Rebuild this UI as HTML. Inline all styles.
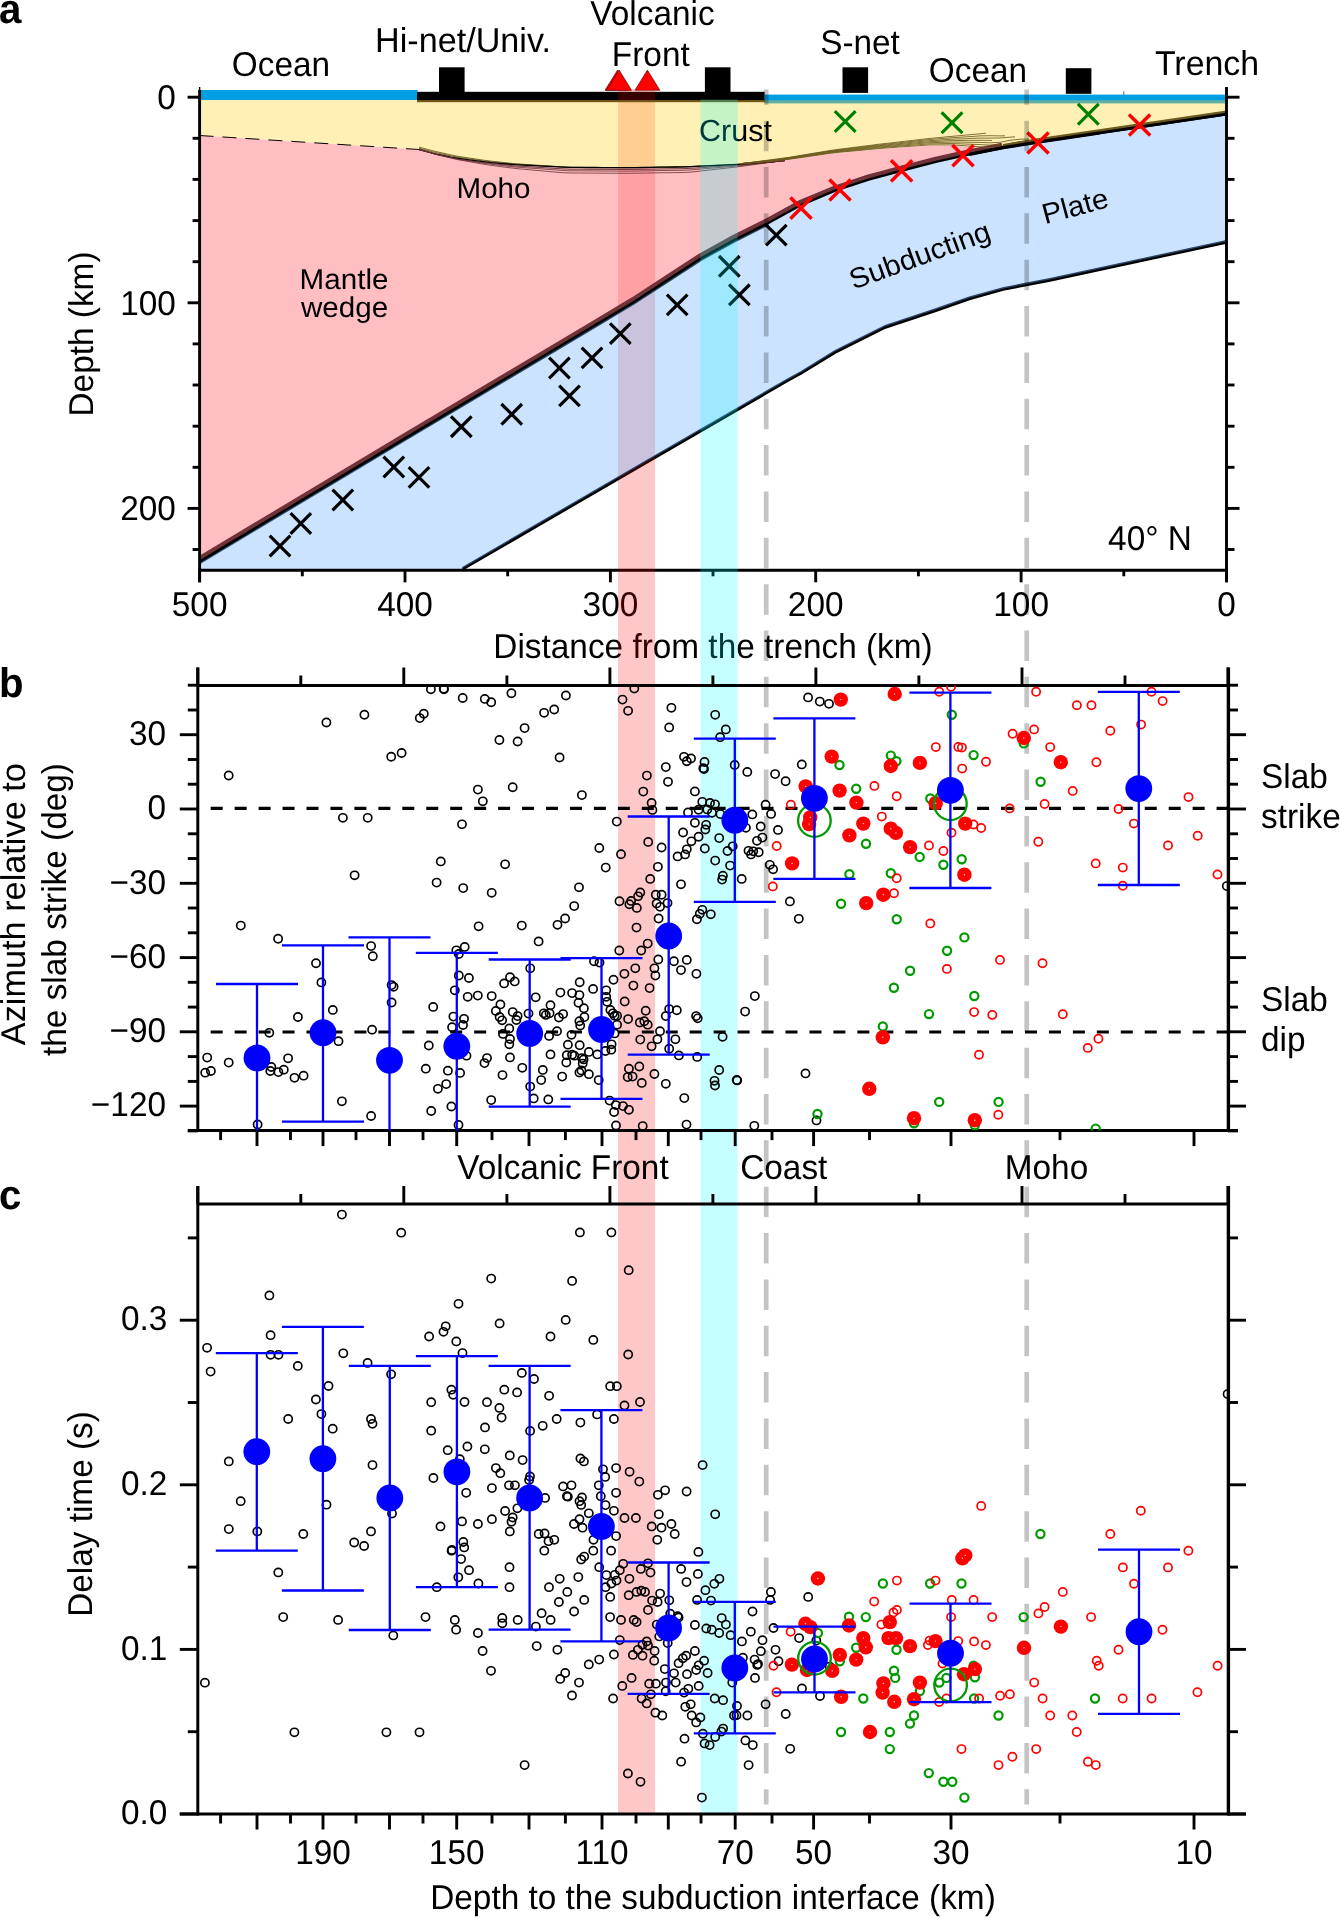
<!DOCTYPE html>
<html><head><meta charset="utf-8"><title>Figure</title>
<style>html,body{margin:0;padding:0;background:#fff}body{width:1340px;height:1918px;position:relative;overflow:hidden;font-family:"Liberation Sans", sans-serif}</style></head>
<body>
<svg width="1340" height="1918" viewBox="0 0 1340 1918" style="position:absolute;left:0;top:0;will-change:transform;font-family:'Liberation Sans', sans-serif" font-size="33.3" text-rendering="geometricPrecision">
<defs><clipPath id="ca"><rect x="199.6" y="80" width="1026.9" height="490.3"/></clipPath>
<clipPath id="cb"><rect x="197.8" y="685.5" width="1030.2" height="445.1"/></clipPath>
<clipPath id="cc"><rect x="197.8" y="1204.0" width="1030.2" height="610.0"/></clipPath>
<clipPath id="cy"><polygon points="199.5,99.0 1226.5,99.0 1226.5,113.6 1226.5,113.6 1038.0,141.5 1003.0,147.1 996.0,148.5 975.0,147.0 953.0,145.5 929.0,145.5 881.0,149.0 833.0,153.5 785.0,160.5 768.0,162.3 740.0,164.3 683.6,166.9 627.0,167.7 570.0,167.4 513.0,164.6 485.0,162.0 456.7,158.2 437.0,154.3 419.0,149.5 199.5,135.5"/></clipPath>
<clipPath id="cw"><polygon points="199.5,135.5 419.0,149.5 437.0,154.3 456.7,158.2 485.0,162.0 513.0,164.6 570.0,167.4 627.0,167.7 683.6,166.9 740.0,164.3 768.0,162.3 785.0,160.5 833.0,153.5 881.0,149.0 929.0,145.5 953.0,145.5 975.0,147.0 996.0,148.5 969.4,153.8 935.8,161.2 902.2,169.9 868.6,179.0 835.1,190.1 801.5,204.2 767.9,222.6 734.3,239.4 700.7,257.9 667.2,279.7 633.6,301.6 600.0,321.7 405.0,437.8 199.5,561.0"/></clipPath>
<clipPath id="cs"><polygon points="199.5,561.0 405.0,437.8 600.0,321.7 633.6,301.6 667.2,279.7 700.7,257.9 734.3,239.4 767.9,222.6 801.5,204.2 835.1,190.1 868.6,179.0 902.2,169.9 935.8,161.2 969.4,153.8 1003.0,147.1 1038.0,141.5 1226.5,113.6 1226.5,241.7 1050.0,279.7 1003.0,288.8 969.4,298.2 935.8,310.0 885.4,326.7 835.0,351.9 801.5,372.5 787.8,380.0 640.0,465.6 462.4,568.7 460.0,570.2 199.5,570.0"/></clipPath>
<clipPath id="cout"><rect x="0" y="0" width="1340" height="100.1"/><polygon points="1226.5,241.7 1050.0,279.7 1003.0,288.8 969.4,298.2 935.8,310.0 885.4,326.7 835.0,351.9 801.5,372.5 787.8,380.0 640.0,465.6 462.4,568.7 460.0,570.2 460.0,1918.0 1340.0,1918.0 1340.0,241.7"/></clipPath>
</defs>
<rect width="1340" height="1918" fill="#fff"/>
<g clip-path="url(#ca)">
<polygon points="199.5,99.0 1226.5,99.0 1226.5,113.6 1226.5,113.6 1038.0,141.5 1003.0,147.1 996.0,148.5 975.0,147.0 953.0,145.5 929.0,145.5 881.0,149.0 833.0,153.5 785.0,160.5 768.0,162.3 740.0,164.3 683.6,166.9 627.0,167.7 570.0,167.4 513.0,164.6 485.0,162.0 456.7,158.2 437.0,154.3 419.0,149.5 199.5,135.5" fill="#fff0b6"/>
<polygon points="199.5,135.5 419.0,149.5 437.0,154.3 456.7,158.2 485.0,162.0 513.0,164.6 570.0,167.4 627.0,167.7 683.6,166.9 740.0,164.3 768.0,162.3 785.0,160.5 833.0,153.5 881.0,149.0 929.0,145.5 953.0,145.5 975.0,147.0 996.0,148.5 969.4,153.8 935.8,161.2 902.2,169.9 868.6,179.0 835.1,190.1 801.5,204.2 767.9,222.6 734.3,239.4 700.7,257.9 667.2,279.7 633.6,301.6 600.0,321.7 405.0,437.8 199.5,561.0" fill="#ffbec2"/>
<polygon points="199.5,561.0 405.0,437.8 600.0,321.7 633.6,301.6 667.2,279.7 700.7,257.9 734.3,239.4 767.9,222.6 801.5,204.2 835.1,190.1 868.6,179.0 902.2,169.9 935.8,161.2 969.4,153.8 1003.0,147.1 1038.0,141.5 1226.5,113.6 1226.5,241.7 1050.0,279.7 1003.0,288.8 969.4,298.2 935.8,310.0 885.4,326.7 835.0,351.9 801.5,372.5 787.8,380.0 640.0,465.6 462.4,568.7 460.0,570.2 199.5,570.0" fill="#cce3ff"/>
<rect x="618" y="99" width="37.1" height="472" fill="#ffcf92" clip-path="url(#cy)"/>
<rect x="618" y="99" width="37.1" height="472" fill="#ffa0a5" clip-path="url(#cw)"/>
<rect x="618" y="99" width="37.1" height="472" fill="#cbc3de" clip-path="url(#cs)"/>
<rect x="765" y="100" width="461.5" height="3.4" fill="#5fb0a4"/>
<rect x="417" y="100" width="348" height="2.2" fill="#7a5a1a"/>
<polyline points="1226.5,241.7 1050.0,279.7 1003.0,288.8 969.4,298.2 935.8,310.0 885.4,326.7 835.0,351.9 801.5,372.5 787.8,380.0 640.0,465.6 462.4,568.7" fill="none" stroke="#2a4466" stroke-width="2.2" transform="translate(0,-0.6)"/>
<polyline points="1226.5,241.7 1050.0,279.7 1003.0,288.8 969.4,298.2 935.8,310.0 885.4,326.7 835.0,351.9 801.5,372.5 787.8,380.0 640.0,465.6 462.4,568.7" fill="none" stroke="#000" stroke-width="2.2" transform="translate(0,0.9)"/>
<polyline points="199.5,561.0 405.0,437.8 600.0,321.7 633.6,301.6 667.2,279.7 700.7,257.9 734.3,239.4 767.9,222.6" fill="none" stroke="#2c4a68" stroke-width="2" transform="translate(0.6,1.9)"/>
<polyline points="199.5,561.0 405.0,437.8 600.0,321.7 633.6,301.6 667.2,279.7 700.7,257.9 734.3,239.4 767.9,222.6 801.5,204.2 835.1,190.1 868.6,179.0 902.2,169.9 935.8,161.2 969.4,153.8 1003.0,147.1" fill="none" stroke="#6e3238" stroke-width="4.4" transform="translate(-1.0,-2.1)"/>
<polyline points="1003.0,147.1 1038.0,141.5 1226.5,113.6" fill="none" stroke="#6b5a1e" stroke-width="2.6" transform="translate(0,-1.9)"/>
<polyline points="199.5,561.0 405.0,437.8 600.0,321.7 633.6,301.6 667.2,279.7 700.7,257.9 734.3,239.4 767.9,222.6 801.5,204.2 835.1,190.1 868.6,179.0 902.2,169.9 935.8,161.2 969.4,153.8 1003.0,147.1 1038.0,141.5 1226.5,113.6" fill="none" stroke="#000" stroke-width="2.4" transform="translate(0,0.6)"/>
<polyline points="199.5,135.5 419.0,149.5" fill="none" stroke="#000" stroke-width="1" stroke-dasharray="14,9"/>
<polyline points="419.0,147.1 427.0,149.2 435.0,151.4 443.0,153.1 451.0,154.9 459.0,156.5 467.0,157.7 475.0,158.9 483.0,160.1 491.0,161.1 499.0,162.0 507.0,162.9 515.0,163.7 523.0,164.2 531.0,164.8 539.0,165.3 547.0,165.8 555.0,166.4 563.0,166.9 571.0,167.4 579.0,167.4 587.0,167.5 595.0,167.5 603.0,167.6 611.0,167.6 619.0,167.7 627.0,167.7 635.0,167.6 643.0,167.5 651.0,167.4 659.0,167.2 667.0,167.1 675.0,167.0 683.0,166.9 691.0,166.6 699.0,166.2 707.0,165.8 715.0,165.5 723.0,165.1 731.0,164.7 739.0,164.3 747.0,163.8 755.0,163.2 763.0,162.7 771.0,162.0 779.0,161.1 785.0,160.5" fill="none" stroke="#5a4a14" stroke-width="0.8"/>
<polyline points="419.0,148.2 427.0,150.3 435.0,152.5 443.0,154.2 451.0,155.9 459.0,157.4 467.0,158.6 475.0,159.7 483.0,160.9 491.0,161.8 499.0,162.6 507.0,163.4 515.0,164.1 523.0,164.6 531.0,165.1 539.0,165.6 547.0,166.0 555.0,166.5 563.0,167.0 571.0,167.4 579.0,167.4 587.0,167.5 595.0,167.5 603.0,167.6 611.0,167.6 619.0,167.7 627.0,167.7 635.0,167.6 643.0,167.5 651.0,167.4 659.0,167.2 667.0,167.1 675.0,167.0 683.0,166.9 691.0,166.6 699.0,166.2 707.0,165.8 715.0,165.5 723.0,165.1 731.0,164.7 739.0,164.3 747.0,163.8 755.0,163.2 763.0,162.7 771.0,162.0 779.0,161.1 785.0,160.5" fill="none" stroke="#5a4a14" stroke-width="0.8"/>
<polyline points="419.0,149.5 427.0,151.6 435.0,153.8 443.0,155.5 451.0,157.1 459.0,158.5 467.0,159.6 475.0,160.7 483.0,161.7 491.0,162.6 499.0,163.3 507.0,164.0 515.0,164.7 523.0,165.1 531.0,165.5 539.0,165.9 547.0,166.3 555.0,166.7 563.0,167.1 571.0,167.4 579.0,167.4 587.0,167.5 595.0,167.5 603.0,167.6 611.0,167.6 619.0,167.7 627.0,167.7 635.0,167.6 643.0,167.5 651.0,167.4 659.0,167.2 667.0,167.1 675.0,167.0 683.0,166.9 691.0,166.6 699.0,166.2 707.0,165.8 715.0,165.5 723.0,165.1 731.0,164.7 739.0,164.3 747.0,163.8 755.0,163.2 763.0,162.7 771.0,162.0 779.0,161.1 785.0,160.5" fill="none" stroke="#000" stroke-width="1.3"/>
<polyline points="419.0,149.5 427.0,151.7 435.0,153.9 443.0,155.7 451.0,157.4 459.0,159.0 467.0,160.1 475.0,161.3 483.0,162.5 491.0,163.4 499.0,164.3 507.0,165.1 515.0,165.9 523.0,166.4 531.0,166.9 539.0,167.4 547.0,167.9 555.0,168.4 563.0,168.9 571.0,169.2 579.0,169.2 587.0,169.3 595.0,169.3 603.0,169.4 611.0,169.4 619.0,169.5 627.0,169.5 635.0,169.4 643.0,169.3 651.0,169.2 659.0,169.0 667.0,168.9 675.0,168.8 683.0,168.7 691.0,168.3 699.0,167.8 707.0,167.3 715.0,166.7 723.0,166.2 731.0,165.6 739.0,165.1 747.0,164.4 755.0,163.7 763.0,162.9 771.0,162.1 779.0,161.1 785.0,160.5" fill="none" stroke="#4a2020" stroke-width="0.8"/>
<polyline points="419.0,149.5 427.0,151.7 435.0,154.0 443.0,155.9 451.0,157.7 459.0,159.4 467.0,160.6 475.0,161.9 483.0,163.2 491.0,164.2 499.0,165.2 507.0,166.1 515.0,167.0 523.0,167.6 531.0,168.2 539.0,168.7 547.0,169.3 555.0,169.9 563.0,170.5 571.0,170.8 579.0,170.8 587.0,170.9 595.0,170.9 603.0,171.0 611.0,171.0 619.0,171.1 627.0,171.1 635.0,171.0 643.0,170.9 651.0,170.8 659.0,170.6 667.0,170.5 675.0,170.4 683.0,170.3 691.0,169.9 699.0,169.2 707.0,168.5 715.0,167.9 723.0,167.2 731.0,166.5 739.0,165.8 747.0,164.9 755.0,164.0 763.0,163.1 771.0,162.1 779.0,161.1 785.0,160.5" fill="none" stroke="#6a3036" stroke-width="0.8"/>
<polyline points="419.0,149.5 427.0,151.7 435.0,154.2 443.0,156.2 451.0,158.2 459.0,159.9 467.0,161.3 475.0,162.7 483.0,164.1 491.0,165.3 499.0,166.4 507.0,167.4 515.0,168.4 523.0,169.2 531.0,169.9 539.0,170.6 547.0,171.3 555.0,172.1 563.0,172.7 571.0,173.0 579.0,173.0 587.0,173.1 595.0,173.1 603.0,173.2 611.0,173.2 619.0,173.3 627.0,173.3 635.0,173.2 643.0,173.1 651.0,173.0 659.0,172.8 667.0,172.7 675.0,172.6 683.0,172.5 691.0,172.1 699.0,171.2 707.0,170.3 715.0,169.4 723.0,168.5 731.0,167.6 739.0,166.7 747.0,165.6 755.0,164.5 763.0,163.4 771.0,162.2 779.0,161.1 785.0,160.5" fill="none" stroke="#6a3036" stroke-width="0.8"/>
<polyline points="740.0,163.7 750.0,163.0 760.0,162.3 770.0,161.5 780.0,160.4 790.0,159.2 800.0,157.7 810.0,156.3 820.0,154.8 830.0,153.3 840.0,152.2 850.0,151.3 860.0,150.4 870.0,149.4 880.0,148.5 890.0,147.7 900.0,147.0 910.0,146.3 920.0,145.6 930.0,144.9 940.0,144.9 950.0,144.9 960.0,145.4 970.0,146.1 980.0,146.8 990.0,147.5 1000.0,146.6 1010.0,143.5 1020.0,141.6 1030.0,141.0 1032.0,140.9" fill="none" stroke="#6b5a1e" stroke-width="0.85"/>
<polyline points="740.0,163.7 750.0,162.9 760.0,162.1 770.0,161.2 780.0,160.1 790.0,158.8 800.0,157.3 810.0,155.9 820.0,154.4 830.0,152.9 840.0,151.7 850.0,150.7 860.0,149.7 870.0,148.8 880.0,147.8 890.0,146.9 900.0,146.1 910.0,145.4 920.0,144.6 930.0,143.8 940.0,143.7 950.0,143.5 960.0,143.8 970.0,144.2 980.0,144.6 990.0,145.1 1000.0,144.5" fill="none" stroke="#6b5a1e" stroke-width="0.85"/>
<polyline points="740.0,163.7 750.0,162.8 760.0,161.9 770.0,161.0 780.0,159.8 790.0,158.5 800.0,157.0 810.0,155.4 820.0,153.9 830.0,152.4 840.0,151.2 850.0,150.2 860.0,149.1 870.0,148.1 880.0,147.0 890.0,146.2 900.0,145.3 910.0,144.4 920.0,143.5 930.0,142.7 940.0,142.4 950.0,142.1 960.0,142.1 970.0,142.3 980.0,142.4 990.0,142.8 1000.0,142.3 1010.0,140.3 1020.0,139.2 1029.0,139.0" fill="none" stroke="#6b5a1e" stroke-width="0.85"/>
<polyline points="740.0,163.8 750.0,162.7 760.0,161.7 770.0,160.7 780.0,159.5 790.0,158.2 800.0,156.6 810.0,155.0 820.0,153.5 830.0,151.9 840.0,150.7 850.0,149.6 860.0,148.5 870.0,147.4 880.0,146.3 890.0,145.4 900.0,144.4 910.0,143.5 920.0,142.5 930.0,141.7 940.0,141.2 950.0,140.7 960.0,140.5 970.0,140.4 980.0,140.3 990.0,140.4 992.0,140.5" fill="none" stroke="#6b5a1e" stroke-width="0.85"/>
<polyline points="740.0,163.8 750.0,162.7 760.0,161.6 770.0,160.5 780.0,159.2 790.0,157.8 800.0,156.2 810.0,154.6 820.0,153.0 830.0,151.4 840.0,150.2 850.0,149.0 860.0,147.9 870.0,146.7 880.0,145.6 890.0,144.6 900.0,143.6 910.0,142.5 920.0,141.5 930.0,140.6 940.0,140.0 950.0,139.3 960.0,138.9 970.0,138.5 980.0,138.1 990.0,138.1 1000.0,138.0 1010.0,137.2 1015.0,136.8" fill="none" stroke="#6b5a1e" stroke-width="0.85"/>
<polyline points="740.0,163.8 750.0,162.6 760.0,161.4 770.0,160.2 780.0,158.9 790.0,157.5 800.0,155.9 810.0,154.2 820.0,152.6 830.0,151.0 840.0,149.6 850.0,148.4 860.0,147.2 870.0,146.1 880.0,144.9 890.0,143.8 900.0,142.7 910.0,141.6 920.0,140.5 930.0,139.5 940.0,138.7 950.0,137.9 960.0,137.2 970.0,136.6 980.0,135.9 990.0,135.7 1000.0,135.9 1005.0,135.8" fill="none" stroke="#6b5a1e" stroke-width="0.85"/>
<polyline points="740.0,163.8 750.0,162.5 760.0,161.2 770.0,159.9 780.0,158.6 790.0,157.2 800.0,155.5 810.0,153.8 820.0,152.2 830.0,150.5 840.0,149.1 850.0,147.9 860.0,146.6 870.0,145.4 880.0,144.1 890.0,143.0 900.0,141.8 910.0,140.7 920.0,139.5 930.0,138.4 940.0,137.5 950.0,136.5 960.0,135.6 970.0,134.7 980.0,133.8 986.0,133.2" fill="none" stroke="#6b5a1e" stroke-width="0.85"/>
<polyline points="969.4,153.8 1003.0,147.1 1038.0,141.5 1100.0,132.3" fill="none" stroke="#000" stroke-width="3.2" transform="translate(0,0.6)"/>
<polyline points="1100,132.3 1226.5,113.6" fill="none" stroke="#000" stroke-width="2.8" transform="translate(0,0.6)"/>
</g>
<rect x="199.5" y="90" width="218" height="10" fill="#009fe3"/>
<rect x="764.6" y="94.6" width="462" height="5.6" fill="#009fe3"/>
<rect x="417" y="91.8" width="347.6" height="8.3" fill="#000"/>
<rect x="439.0" y="67.3" width="25.6" height="25.6" fill="#000"/>
<rect x="704.9" y="67.3" width="25.6" height="25.6" fill="#000"/>
<rect x="842.5" y="67.3" width="25.6" height="25.6" fill="#000"/>
<rect x="1065.8" y="68.2" width="25.6" height="25.6" fill="#000"/>
<polygon points="605,90.3 617.6,70 630.2,90.3" fill="#f00" stroke="#400" stroke-width="0.6"/>
<polygon points="606.6,90.3 619.1,70 631.6,90.3" fill="#f00" stroke="#400" stroke-width="0.6"/>
<polygon points="634.9,90.3 647.4,70 659.9,90.3" fill="#f00" stroke="#400" stroke-width="0.6"/>
<line x1="1123.8" y1="91.3" x2="1123.8" y2="94.8" stroke="#333" stroke-width="0.8"/>
<path d="M269.7 535.7L290.3 556.3M269.7 556.3L290.3 535.7" stroke="#000" stroke-width="3.2" fill="none"/>
<path d="M290.5 513.2L311.1 533.8M290.5 533.8L311.1 513.2" stroke="#000" stroke-width="3.2" fill="none"/>
<path d="M332.5 489.7L353.1 510.3M332.5 510.3L353.1 489.7" stroke="#000" stroke-width="3.2" fill="none"/>
<path d="M383.5 456.7L404.1 477.3M383.5 477.3L404.1 456.7" stroke="#000" stroke-width="3.2" fill="none"/>
<path d="M408.7 467.1L429.3 487.7M408.7 487.7L429.3 467.1" stroke="#000" stroke-width="3.2" fill="none"/>
<path d="M451.0 416.4L471.6 437.0M451.0 437.0L471.6 416.4" stroke="#000" stroke-width="3.2" fill="none"/>
<path d="M501.4 404.0L522.0 424.6M501.4 424.6L522.0 404.0" stroke="#000" stroke-width="3.2" fill="none"/>
<path d="M549.1 357.7L569.7 378.3M549.1 378.3L569.7 357.7" stroke="#000" stroke-width="3.2" fill="none"/>
<path d="M559.2 385.6L579.8 406.2M559.2 406.2L579.8 385.6" stroke="#000" stroke-width="3.2" fill="none"/>
<path d="M581.7 347.6L602.3 368.2M581.7 368.2L602.3 347.6" stroke="#000" stroke-width="3.2" fill="none"/>
<path d="M610.0 323.3L630.6 343.9M610.0 343.9L630.6 323.3" stroke="#000" stroke-width="3.2" fill="none"/>
<path d="M666.9 294.6L687.5 315.2M666.9 315.2L687.5 294.6" stroke="#000" stroke-width="3.2" fill="none"/>
<path d="M719.0 256.0L739.6 276.6M719.0 276.6L739.6 256.0" stroke="#000" stroke-width="3.2" fill="none"/>
<path d="M729.1 284.5L749.7 305.1M729.1 305.1L749.7 284.5" stroke="#000" stroke-width="3.2" fill="none"/>
<path d="M766.0 224.8L786.6 245.4M766.0 245.4L786.6 224.8" stroke="#000" stroke-width="3.2" fill="none"/>
<path d="M790.4 197.6L811.6 218.8M790.4 218.8L811.6 197.6" stroke="#f00" stroke-width="3.5" fill="none"/>
<path d="M829.4 179.4L850.6 200.6M829.4 200.6L850.6 179.4" stroke="#f00" stroke-width="3.5" fill="none"/>
<path d="M891.0 160.3L912.2 181.5M891.0 181.5L912.2 160.3" stroke="#f00" stroke-width="3.5" fill="none"/>
<path d="M952.4 145.0L973.6 166.2M952.4 166.2L973.6 145.0" stroke="#f00" stroke-width="3.5" fill="none"/>
<path d="M1027.4 132.4L1048.6 153.6M1027.4 153.6L1048.6 132.4" stroke="#f00" stroke-width="3.5" fill="none"/>
<path d="M1129.0 114.4L1150.2 135.6M1129.0 135.6L1150.2 114.4" stroke="#f00" stroke-width="3.5" fill="none"/>
<path d="M834.8 111.1L855.6 131.9M834.8 131.9L855.6 111.1" stroke="#008000" stroke-width="3.2" fill="none"/>
<path d="M941.6 112.3L962.4 133.1M941.6 133.1L962.4 112.3" stroke="#008000" stroke-width="3.2" fill="none"/>
<path d="M1077.9 103.9L1098.7 124.7M1077.9 124.7L1098.7 103.9" stroke="#008000" stroke-width="3.2" fill="none"/>
<line x1="199.6" y1="90.0" x2="199.6" y2="582.3" stroke="#000" stroke-width="2.9" />
<line x1="199.6" y1="87.0" x2="199.6" y2="90.0" stroke="#000" stroke-width="1.4" />
<line x1="1226.5" y1="87.0" x2="1226.5" y2="582.3" stroke="#000" stroke-width="2.9" />
<line x1="198.5" y1="570.3" x2="1227.6" y2="570.3" stroke="#000" stroke-width="2.9" />
<line x1="187.6" y1="97.2" x2="199.6" y2="97.2" stroke="#000" stroke-width="2.9" />
<line x1="1226.5" y1="97.2" x2="1239.5" y2="97.2" stroke="#000" stroke-width="2.9" />
<line x1="192.6" y1="138.3" x2="199.6" y2="138.3" stroke="#000" stroke-width="2.9" />
<line x1="1226.5" y1="138.3" x2="1234.5" y2="138.3" stroke="#000" stroke-width="2.9" />
<line x1="192.6" y1="179.4" x2="199.6" y2="179.4" stroke="#000" stroke-width="2.9" />
<line x1="1226.5" y1="179.4" x2="1234.5" y2="179.4" stroke="#000" stroke-width="2.9" />
<line x1="192.6" y1="220.6" x2="199.6" y2="220.6" stroke="#000" stroke-width="2.9" />
<line x1="1226.5" y1="220.6" x2="1234.5" y2="220.6" stroke="#000" stroke-width="2.9" />
<line x1="192.6" y1="261.7" x2="199.6" y2="261.7" stroke="#000" stroke-width="2.9" />
<line x1="1226.5" y1="261.7" x2="1234.5" y2="261.7" stroke="#000" stroke-width="2.9" />
<line x1="187.6" y1="302.8" x2="199.6" y2="302.8" stroke="#000" stroke-width="2.9" />
<line x1="1226.5" y1="302.8" x2="1239.5" y2="302.8" stroke="#000" stroke-width="2.9" />
<line x1="192.6" y1="343.9" x2="199.6" y2="343.9" stroke="#000" stroke-width="2.9" />
<line x1="1226.5" y1="343.9" x2="1234.5" y2="343.9" stroke="#000" stroke-width="2.9" />
<line x1="192.6" y1="385.0" x2="199.6" y2="385.0" stroke="#000" stroke-width="2.9" />
<line x1="1226.5" y1="385.0" x2="1234.5" y2="385.0" stroke="#000" stroke-width="2.9" />
<line x1="192.6" y1="426.2" x2="199.6" y2="426.2" stroke="#000" stroke-width="2.9" />
<line x1="1226.5" y1="426.2" x2="1234.5" y2="426.2" stroke="#000" stroke-width="2.9" />
<line x1="192.6" y1="467.3" x2="199.6" y2="467.3" stroke="#000" stroke-width="2.9" />
<line x1="1226.5" y1="467.3" x2="1234.5" y2="467.3" stroke="#000" stroke-width="2.9" />
<line x1="187.6" y1="508.4" x2="199.6" y2="508.4" stroke="#000" stroke-width="2.9" />
<line x1="1226.5" y1="508.4" x2="1239.5" y2="508.4" stroke="#000" stroke-width="2.9" />
<line x1="192.6" y1="549.5" x2="199.6" y2="549.5" stroke="#000" stroke-width="2.9" />
<line x1="1226.5" y1="549.5" x2="1234.5" y2="549.5" stroke="#000" stroke-width="2.9" />
<line x1="1226.5" y1="570.3" x2="1226.5" y2="582.3" stroke="#000" stroke-width="2.9" />
<line x1="1123.8" y1="570.3" x2="1123.8" y2="576.3" stroke="#000" stroke-width="2.9" />
<line x1="1021.1" y1="570.3" x2="1021.1" y2="582.3" stroke="#000" stroke-width="2.9" />
<line x1="918.4" y1="570.3" x2="918.4" y2="576.3" stroke="#000" stroke-width="2.9" />
<line x1="815.7" y1="570.3" x2="815.7" y2="582.3" stroke="#000" stroke-width="2.9" />
<line x1="713.0" y1="570.3" x2="713.0" y2="576.3" stroke="#000" stroke-width="2.9" />
<line x1="610.4" y1="570.3" x2="610.4" y2="582.3" stroke="#000" stroke-width="2.9" />
<line x1="507.7" y1="570.3" x2="507.7" y2="576.3" stroke="#000" stroke-width="2.9" />
<line x1="405.0" y1="570.3" x2="405.0" y2="582.3" stroke="#000" stroke-width="2.9" />
<line x1="302.3" y1="570.3" x2="302.3" y2="576.3" stroke="#000" stroke-width="2.9" />
<line x1="199.6" y1="570.3" x2="199.6" y2="582.3" stroke="#000" stroke-width="2.9" />
<text transform="translate(-1.0 23.2) scale(0.97 1)" text-anchor="start" font-size="41.5" font-weight="bold">a</text>
<text transform="translate(281.0 75.7) scale(0.97 1)" text-anchor="middle" font-size="34.4" >Ocean</text>
<text transform="translate(463.0 51.9) scale(0.993 1)" text-anchor="middle" font-size="34.4" >Hi-net/Univ.</text>
<text transform="translate(652.5 24.7) scale(0.97 1)" text-anchor="middle" font-size="34.4" >Volcanic</text>
<text transform="translate(650.8 66.0) scale(0.97 1)" text-anchor="middle" font-size="34.4" >Front</text>
<text transform="translate(860.0 54.4) scale(0.97 1)" text-anchor="middle" font-size="34.4" >S-net</text>
<text transform="translate(978.0 81.6) scale(0.97 1)" text-anchor="middle" font-size="34.4" >Ocean</text>
<text transform="translate(1207.0 75.4) scale(0.985 1)" text-anchor="middle" font-size="34.4" >Trench</text>
<text transform="translate(735.5 140.5) scale(1.0 1)" text-anchor="middle" font-size="30.5" >Crust</text>
<text transform="translate(493.5 198.0) scale(1.035 1)" text-anchor="middle" font-size="28.6" >Moho</text>
<text transform="translate(344.0 289.0) scale(1.035 1)" text-anchor="middle" font-size="28.6" >Mantle</text>
<text transform="translate(344.5 316.7) scale(1.035 1)" text-anchor="middle" font-size="28.6" >wedge</text>
<text transform="translate(923.0 264.5) rotate(-20) scale(1.035 1)" text-anchor="middle" font-size="28.6" >Subducting</text>
<text transform="translate(1077.5 215.5) rotate(-15) scale(1.035 1)" text-anchor="middle" font-size="28.6" >Plate</text>
<text transform="translate(1150.0 550.0) scale(0.97 1)" text-anchor="middle" font-size="34.4" >40° N</text>
<text transform="translate(175.8 109.2) scale(0.97 1)" text-anchor="end" font-size="34.4" >0</text>
<text transform="translate(175.8 314.8) scale(0.97 1)" text-anchor="end" font-size="34.4" >100</text>
<text transform="translate(175.8 520.4) scale(0.97 1)" text-anchor="end" font-size="34.4" >200</text>
<text transform="translate(1226.5 615.5) scale(0.97 1)" text-anchor="middle" font-size="34.4" >0</text>
<text transform="translate(1021.1 615.5) scale(0.97 1)" text-anchor="middle" font-size="34.4" >100</text>
<text transform="translate(815.7 615.5) scale(0.97 1)" text-anchor="middle" font-size="34.4" >200</text>
<text transform="translate(610.4 615.5) scale(0.97 1)" text-anchor="middle" font-size="34.4" >300</text>
<text transform="translate(405.0 615.5) scale(0.97 1)" text-anchor="middle" font-size="34.4" >400</text>
<text transform="translate(199.6 615.5) scale(0.97 1)" text-anchor="middle" font-size="34.4" >500</text>
<text transform="translate(713.0 657.8) scale(0.97 1)" text-anchor="middle" font-size="34.4" >Distance from the trench (km)</text>
<text transform="translate(93.0 334.0) rotate(-90) scale(0.97 1)" text-anchor="middle" font-size="34.4" >Depth (km)</text>
<rect x="618" y="89" width="37.1" height="1725" fill="#ff0000" fill-opacity="0.216" clip-path="url(#cout)"/>
<rect x="700.4" y="99.3" width="37.3" height="1714.7" fill="#00ffff" fill-opacity="0.225"/>
<line x1="766.2" y1="89.5" x2="766.2" y2="1804.4" stroke="#000" stroke-opacity="0.23" stroke-width="4.7" stroke-dasharray="30.5,15.85" stroke-dashoffset="15.2"/>
<line x1="1026.7" y1="89.5" x2="1026.7" y2="1804.4" stroke="#000" stroke-opacity="0.23" stroke-width="4.7" stroke-dasharray="30.5,15.85" stroke-dashoffset="15.2"/>
<line x1="197.8" y1="667.5" x2="197.8" y2="1132.0" stroke="#000" stroke-width="3.0" />
<line x1="1228.4" y1="667.5" x2="1228.4" y2="1132.0" stroke="#000" stroke-width="3.4" />
<line x1="197.8" y1="685.5" x2="1228.0" y2="685.5" stroke="#000" stroke-width="3.0" />
<line x1="187.8" y1="1130.6" x2="1238.0" y2="1130.6" stroke="#000" stroke-width="3.0" />
<line x1="1228.0" y1="685.5" x2="1228.0" y2="667.5" stroke="#000" stroke-width="2.9" />
<line x1="1125.0" y1="685.5" x2="1125.0" y2="675.5" stroke="#000" stroke-width="2.9" />
<line x1="1022.0" y1="685.5" x2="1022.0" y2="667.5" stroke="#000" stroke-width="2.9" />
<line x1="918.9" y1="685.5" x2="918.9" y2="675.5" stroke="#000" stroke-width="2.9" />
<line x1="815.9" y1="685.5" x2="815.9" y2="667.5" stroke="#000" stroke-width="2.9" />
<line x1="712.9" y1="685.5" x2="712.9" y2="675.5" stroke="#000" stroke-width="2.9" />
<line x1="609.9" y1="685.5" x2="609.9" y2="667.5" stroke="#000" stroke-width="2.9" />
<line x1="506.9" y1="685.5" x2="506.9" y2="675.5" stroke="#000" stroke-width="2.9" />
<line x1="403.8" y1="685.5" x2="403.8" y2="667.5" stroke="#000" stroke-width="2.9" />
<line x1="300.8" y1="685.5" x2="300.8" y2="675.5" stroke="#000" stroke-width="2.9" />
<line x1="197.8" y1="685.5" x2="197.8" y2="667.5" stroke="#000" stroke-width="2.9" />
<line x1="220.6" y1="1130.6" x2="220.6" y2="1140.1" stroke="#000" stroke-width="2.9" />
<line x1="257.0" y1="1130.6" x2="257.0" y2="1146.1" stroke="#000" stroke-width="2.9" />
<line x1="290.5" y1="1130.6" x2="290.5" y2="1140.1" stroke="#000" stroke-width="2.9" />
<line x1="323.0" y1="1130.6" x2="323.0" y2="1146.1" stroke="#000" stroke-width="2.9" />
<line x1="356.0" y1="1130.6" x2="356.0" y2="1140.1" stroke="#000" stroke-width="2.9" />
<line x1="389.5" y1="1130.6" x2="389.5" y2="1146.1" stroke="#000" stroke-width="2.9" />
<line x1="423.0" y1="1130.6" x2="423.0" y2="1140.1" stroke="#000" stroke-width="2.9" />
<line x1="456.7" y1="1130.6" x2="456.7" y2="1146.1" stroke="#000" stroke-width="2.9" />
<line x1="492.0" y1="1130.6" x2="492.0" y2="1140.1" stroke="#000" stroke-width="2.9" />
<line x1="529.0" y1="1130.6" x2="529.0" y2="1146.1" stroke="#000" stroke-width="2.9" />
<line x1="565.4" y1="1130.6" x2="565.4" y2="1140.1" stroke="#000" stroke-width="2.9" />
<line x1="602.0" y1="1130.6" x2="602.0" y2="1146.1" stroke="#000" stroke-width="2.9" />
<line x1="636.0" y1="1130.6" x2="636.0" y2="1140.1" stroke="#000" stroke-width="2.9" />
<line x1="668.3" y1="1130.6" x2="668.3" y2="1146.1" stroke="#000" stroke-width="2.9" />
<line x1="701.0" y1="1130.6" x2="701.0" y2="1140.1" stroke="#000" stroke-width="2.9" />
<line x1="735.2" y1="1130.6" x2="735.2" y2="1146.1" stroke="#000" stroke-width="2.9" />
<line x1="772.0" y1="1130.6" x2="772.0" y2="1140.1" stroke="#000" stroke-width="2.9" />
<line x1="813.6" y1="1130.6" x2="813.6" y2="1146.1" stroke="#000" stroke-width="2.9" />
<line x1="869.5" y1="1130.6" x2="869.5" y2="1140.1" stroke="#000" stroke-width="2.9" />
<line x1="951.0" y1="1130.6" x2="951.0" y2="1146.1" stroke="#000" stroke-width="2.9" />
<line x1="1060.0" y1="1130.6" x2="1060.0" y2="1140.1" stroke="#000" stroke-width="2.9" />
<line x1="1194.0" y1="1130.6" x2="1194.0" y2="1146.1" stroke="#000" stroke-width="2.9" />
<line x1="197.8" y1="1186.0" x2="197.8" y2="1815.4" stroke="#000" stroke-width="3.0" />
<line x1="1228.4" y1="1186.0" x2="1228.4" y2="1815.4" stroke="#000" stroke-width="3.4" />
<line x1="197.8" y1="1204.0" x2="1228.0" y2="1204.0" stroke="#000" stroke-width="3.0" />
<line x1="179.8" y1="1814.0" x2="1246.0" y2="1814.0" stroke="#000" stroke-width="3.0" />
<line x1="1228.0" y1="1204.0" x2="1228.0" y2="1186.0" stroke="#000" stroke-width="2.9" />
<line x1="1125.0" y1="1204.0" x2="1125.0" y2="1194.0" stroke="#000" stroke-width="2.9" />
<line x1="1022.0" y1="1204.0" x2="1022.0" y2="1186.0" stroke="#000" stroke-width="2.9" />
<line x1="918.9" y1="1204.0" x2="918.9" y2="1194.0" stroke="#000" stroke-width="2.9" />
<line x1="815.9" y1="1204.0" x2="815.9" y2="1186.0" stroke="#000" stroke-width="2.9" />
<line x1="712.9" y1="1204.0" x2="712.9" y2="1194.0" stroke="#000" stroke-width="2.9" />
<line x1="609.9" y1="1204.0" x2="609.9" y2="1186.0" stroke="#000" stroke-width="2.9" />
<line x1="506.9" y1="1204.0" x2="506.9" y2="1194.0" stroke="#000" stroke-width="2.9" />
<line x1="403.8" y1="1204.0" x2="403.8" y2="1186.0" stroke="#000" stroke-width="2.9" />
<line x1="300.8" y1="1204.0" x2="300.8" y2="1194.0" stroke="#000" stroke-width="2.9" />
<line x1="197.8" y1="1204.0" x2="197.8" y2="1186.0" stroke="#000" stroke-width="2.9" />
<line x1="220.6" y1="1814.0" x2="220.6" y2="1823.5" stroke="#000" stroke-width="2.9" />
<line x1="257.0" y1="1814.0" x2="257.0" y2="1829.5" stroke="#000" stroke-width="2.9" />
<line x1="290.5" y1="1814.0" x2="290.5" y2="1823.5" stroke="#000" stroke-width="2.9" />
<line x1="323.0" y1="1814.0" x2="323.0" y2="1829.5" stroke="#000" stroke-width="2.9" />
<line x1="356.0" y1="1814.0" x2="356.0" y2="1823.5" stroke="#000" stroke-width="2.9" />
<line x1="389.5" y1="1814.0" x2="389.5" y2="1829.5" stroke="#000" stroke-width="2.9" />
<line x1="423.0" y1="1814.0" x2="423.0" y2="1823.5" stroke="#000" stroke-width="2.9" />
<line x1="456.7" y1="1814.0" x2="456.7" y2="1829.5" stroke="#000" stroke-width="2.9" />
<line x1="492.0" y1="1814.0" x2="492.0" y2="1823.5" stroke="#000" stroke-width="2.9" />
<line x1="529.0" y1="1814.0" x2="529.0" y2="1829.5" stroke="#000" stroke-width="2.9" />
<line x1="565.4" y1="1814.0" x2="565.4" y2="1823.5" stroke="#000" stroke-width="2.9" />
<line x1="602.0" y1="1814.0" x2="602.0" y2="1829.5" stroke="#000" stroke-width="2.9" />
<line x1="636.0" y1="1814.0" x2="636.0" y2="1823.5" stroke="#000" stroke-width="2.9" />
<line x1="668.3" y1="1814.0" x2="668.3" y2="1829.5" stroke="#000" stroke-width="2.9" />
<line x1="701.0" y1="1814.0" x2="701.0" y2="1823.5" stroke="#000" stroke-width="2.9" />
<line x1="735.2" y1="1814.0" x2="735.2" y2="1829.5" stroke="#000" stroke-width="2.9" />
<line x1="772.0" y1="1814.0" x2="772.0" y2="1823.5" stroke="#000" stroke-width="2.9" />
<line x1="813.6" y1="1814.0" x2="813.6" y2="1829.5" stroke="#000" stroke-width="2.9" />
<line x1="869.5" y1="1814.0" x2="869.5" y2="1823.5" stroke="#000" stroke-width="2.9" />
<line x1="951.0" y1="1814.0" x2="951.0" y2="1829.5" stroke="#000" stroke-width="2.9" />
<line x1="1060.0" y1="1814.0" x2="1060.0" y2="1823.5" stroke="#000" stroke-width="2.9" />
<line x1="1194.0" y1="1814.0" x2="1194.0" y2="1829.5" stroke="#000" stroke-width="2.9" />
<line x1="187.8" y1="1130.9" x2="197.8" y2="1130.9" stroke="#000" stroke-width="2.9" />
<line x1="1228.0" y1="1130.9" x2="1238.0" y2="1130.9" stroke="#000" stroke-width="2.9" />
<line x1="179.8" y1="1106.1" x2="197.8" y2="1106.1" stroke="#000" stroke-width="2.9" />
<line x1="1228.0" y1="1106.1" x2="1246.0" y2="1106.1" stroke="#000" stroke-width="2.9" />
<line x1="187.8" y1="1081.4" x2="197.8" y2="1081.4" stroke="#000" stroke-width="2.9" />
<line x1="1228.0" y1="1081.4" x2="1238.0" y2="1081.4" stroke="#000" stroke-width="2.9" />
<line x1="187.8" y1="1056.6" x2="197.8" y2="1056.6" stroke="#000" stroke-width="2.9" />
<line x1="1228.0" y1="1056.6" x2="1238.0" y2="1056.6" stroke="#000" stroke-width="2.9" />
<line x1="179.8" y1="1031.8" x2="197.8" y2="1031.8" stroke="#000" stroke-width="2.9" />
<line x1="1228.0" y1="1031.8" x2="1246.0" y2="1031.8" stroke="#000" stroke-width="2.9" />
<line x1="187.8" y1="1007.1" x2="197.8" y2="1007.1" stroke="#000" stroke-width="2.9" />
<line x1="1228.0" y1="1007.1" x2="1238.0" y2="1007.1" stroke="#000" stroke-width="2.9" />
<line x1="187.8" y1="982.3" x2="197.8" y2="982.3" stroke="#000" stroke-width="2.9" />
<line x1="1228.0" y1="982.3" x2="1238.0" y2="982.3" stroke="#000" stroke-width="2.9" />
<line x1="179.8" y1="957.6" x2="197.8" y2="957.6" stroke="#000" stroke-width="2.9" />
<line x1="1228.0" y1="957.6" x2="1246.0" y2="957.6" stroke="#000" stroke-width="2.9" />
<line x1="187.8" y1="932.8" x2="197.8" y2="932.8" stroke="#000" stroke-width="2.9" />
<line x1="1228.0" y1="932.8" x2="1238.0" y2="932.8" stroke="#000" stroke-width="2.9" />
<line x1="187.8" y1="908.0" x2="197.8" y2="908.0" stroke="#000" stroke-width="2.9" />
<line x1="1228.0" y1="908.0" x2="1238.0" y2="908.0" stroke="#000" stroke-width="2.9" />
<line x1="179.8" y1="883.3" x2="197.8" y2="883.3" stroke="#000" stroke-width="2.9" />
<line x1="1228.0" y1="883.3" x2="1246.0" y2="883.3" stroke="#000" stroke-width="2.9" />
<line x1="187.8" y1="858.5" x2="197.8" y2="858.5" stroke="#000" stroke-width="2.9" />
<line x1="1228.0" y1="858.5" x2="1238.0" y2="858.5" stroke="#000" stroke-width="2.9" />
<line x1="187.8" y1="833.8" x2="197.8" y2="833.8" stroke="#000" stroke-width="2.9" />
<line x1="1228.0" y1="833.8" x2="1238.0" y2="833.8" stroke="#000" stroke-width="2.9" />
<line x1="179.8" y1="809.0" x2="197.8" y2="809.0" stroke="#000" stroke-width="2.9" />
<line x1="1228.0" y1="809.0" x2="1246.0" y2="809.0" stroke="#000" stroke-width="2.9" />
<line x1="187.8" y1="784.2" x2="197.8" y2="784.2" stroke="#000" stroke-width="2.9" />
<line x1="1228.0" y1="784.2" x2="1238.0" y2="784.2" stroke="#000" stroke-width="2.9" />
<line x1="187.8" y1="759.5" x2="197.8" y2="759.5" stroke="#000" stroke-width="2.9" />
<line x1="1228.0" y1="759.5" x2="1238.0" y2="759.5" stroke="#000" stroke-width="2.9" />
<line x1="179.8" y1="734.7" x2="197.8" y2="734.7" stroke="#000" stroke-width="2.9" />
<line x1="1228.0" y1="734.7" x2="1246.0" y2="734.7" stroke="#000" stroke-width="2.9" />
<line x1="187.8" y1="710.0" x2="197.8" y2="710.0" stroke="#000" stroke-width="2.9" />
<line x1="1228.0" y1="710.0" x2="1238.0" y2="710.0" stroke="#000" stroke-width="2.9" />
<line x1="187.8" y1="685.2" x2="197.8" y2="685.2" stroke="#000" stroke-width="2.9" />
<line x1="1228.0" y1="685.2" x2="1238.0" y2="685.2" stroke="#000" stroke-width="2.9" />
<line x1="179.8" y1="1814.0" x2="197.8" y2="1814.0" stroke="#000" stroke-width="2.9" />
<line x1="1228.0" y1="1814.0" x2="1246.0" y2="1814.0" stroke="#000" stroke-width="2.9" />
<line x1="187.8" y1="1731.7" x2="197.8" y2="1731.7" stroke="#000" stroke-width="2.9" />
<line x1="1228.0" y1="1731.7" x2="1238.0" y2="1731.7" stroke="#000" stroke-width="2.9" />
<line x1="179.8" y1="1649.4" x2="197.8" y2="1649.4" stroke="#000" stroke-width="2.9" />
<line x1="1228.0" y1="1649.4" x2="1246.0" y2="1649.4" stroke="#000" stroke-width="2.9" />
<line x1="187.8" y1="1567.1" x2="197.8" y2="1567.1" stroke="#000" stroke-width="2.9" />
<line x1="1228.0" y1="1567.1" x2="1238.0" y2="1567.1" stroke="#000" stroke-width="2.9" />
<line x1="179.8" y1="1484.8" x2="197.8" y2="1484.8" stroke="#000" stroke-width="2.9" />
<line x1="1228.0" y1="1484.8" x2="1246.0" y2="1484.8" stroke="#000" stroke-width="2.9" />
<line x1="187.8" y1="1402.5" x2="197.8" y2="1402.5" stroke="#000" stroke-width="2.9" />
<line x1="1228.0" y1="1402.5" x2="1238.0" y2="1402.5" stroke="#000" stroke-width="2.9" />
<line x1="179.8" y1="1320.2" x2="197.8" y2="1320.2" stroke="#000" stroke-width="2.9" />
<line x1="1228.0" y1="1320.2" x2="1246.0" y2="1320.2" stroke="#000" stroke-width="2.9" />
<line x1="187.8" y1="1237.9" x2="197.8" y2="1237.9" stroke="#000" stroke-width="2.9" />
<line x1="1228.0" y1="1237.9" x2="1238.0" y2="1237.9" stroke="#000" stroke-width="2.9" />
<line x1="210.7" y1="808.4" x2="1228.0" y2="808.4" stroke="#000" stroke-width="3.2" stroke-dasharray="12,11.95"/>
<line x1="210.7" y1="1032.0" x2="1228.0" y2="1032.0" stroke="#000" stroke-width="3.2" stroke-dasharray="12,11.95"/>
<g clip-path="url(#cb)">
<g fill="none" stroke="#000" stroke-width="1.65">
<circle cx="430.9" cy="689.2" r="4.1"/>
<circle cx="444.0" cy="689.2" r="4.1"/>
<circle cx="326.4" cy="722.5" r="4.1"/>
<circle cx="364.4" cy="714.7" r="4.1"/>
<circle cx="419.8" cy="718.1" r="4.1"/>
<circle cx="423.8" cy="713.7" r="4.1"/>
<circle cx="391.2" cy="756.7" r="4.1"/>
<circle cx="401.6" cy="753.0" r="4.1"/>
<circle cx="228.7" cy="775.5" r="4.1"/>
<circle cx="342.9" cy="817.8" r="4.1"/>
<circle cx="367.7" cy="817.8" r="4.1"/>
<circle cx="354.6" cy="875.3" r="4.1"/>
<circle cx="436.6" cy="882.6" r="4.1"/>
<circle cx="240.8" cy="925.6" r="4.1"/>
<circle cx="278.1" cy="938.7" r="4.1"/>
<circle cx="371.1" cy="946.1" r="4.1"/>
<circle cx="372.8" cy="956.2" r="4.1"/>
<circle cx="316.0" cy="963.2" r="4.1"/>
<circle cx="321.4" cy="982.4" r="4.1"/>
<circle cx="391.6" cy="985.1" r="4.1"/>
<circle cx="393.6" cy="986.8" r="4.1"/>
<circle cx="391.6" cy="1002.5" r="4.1"/>
<circle cx="332.8" cy="1009.9" r="4.1"/>
<circle cx="433.2" cy="1006.9" r="4.1"/>
<circle cx="297.9" cy="1017.0" r="4.1"/>
<circle cx="372.1" cy="1029.7" r="4.1"/>
<circle cx="269.3" cy="1032.8" r="4.1"/>
<circle cx="338.5" cy="1041.2" r="4.1"/>
<circle cx="428.8" cy="1045.5" r="4.1"/>
<circle cx="207.2" cy="1057.6" r="4.1"/>
<circle cx="288.1" cy="1058.3" r="4.1"/>
<circle cx="228.7" cy="1062.6" r="4.1"/>
<circle cx="205.2" cy="1072.7" r="4.1"/>
<circle cx="210.9" cy="1071.0" r="4.1"/>
<circle cx="271.3" cy="1067.0" r="4.1"/>
<circle cx="270.3" cy="1071.0" r="4.1"/>
<circle cx="278.4" cy="1072.1" r="4.1"/>
<circle cx="283.8" cy="1069.7" r="4.1"/>
<circle cx="294.5" cy="1077.8" r="4.1"/>
<circle cx="303.6" cy="1075.7" r="4.1"/>
<circle cx="425.8" cy="1068.7" r="4.1"/>
<circle cx="437.9" cy="1088.8" r="4.1"/>
<circle cx="341.9" cy="1101.3" r="4.1"/>
<circle cx="431.2" cy="1111.0" r="4.1"/>
<circle cx="371.1" cy="1116.0" r="4.1"/>
<circle cx="257.6" cy="1124.4" r="4.1"/>
<circle cx="443.7" cy="688.8" r="4.1"/>
<circle cx="462.7" cy="698.0" r="4.1"/>
<circle cx="484.8" cy="698.9" r="4.1"/>
<circle cx="491.2" cy="702.2" r="4.1"/>
<circle cx="511.4" cy="693.2" r="4.1"/>
<circle cx="565.9" cy="695.5" r="4.1"/>
<circle cx="544.1" cy="712.8" r="4.1"/>
<circle cx="554.2" cy="709.5" r="4.1"/>
<circle cx="634.3" cy="688.5" r="4.1"/>
<circle cx="622.5" cy="699.6" r="4.1"/>
<circle cx="628.1" cy="710.8" r="4.1"/>
<circle cx="524.6" cy="728.1" r="4.1"/>
<circle cx="499.4" cy="740.0" r="4.1"/>
<circle cx="517.6" cy="741.5" r="4.1"/>
<circle cx="559.6" cy="757.5" r="4.1"/>
<circle cx="646.9" cy="775.6" r="4.1"/>
<circle cx="477.9" cy="789.6" r="4.1"/>
<circle cx="512.7" cy="787.2" r="4.1"/>
<circle cx="581.9" cy="795.1" r="4.1"/>
<circle cx="643.3" cy="791.6" r="4.1"/>
<circle cx="482.8" cy="801.3" r="4.1"/>
<circle cx="651.6" cy="803.0" r="4.1"/>
<circle cx="652.4" cy="809.9" r="4.1"/>
<circle cx="462.0" cy="824.3" r="4.1"/>
<circle cx="616.8" cy="821.6" r="4.1"/>
<circle cx="648.2" cy="841.9" r="4.1"/>
<circle cx="661.6" cy="847.5" r="4.1"/>
<circle cx="599.3" cy="848.0" r="4.1"/>
<circle cx="621.0" cy="854.2" r="4.1"/>
<circle cx="440.8" cy="861.4" r="4.1"/>
<circle cx="505.1" cy="864.3" r="4.1"/>
<circle cx="605.7" cy="867.6" r="4.1"/>
<circle cx="657.9" cy="866.8" r="4.1"/>
<circle cx="650.2" cy="878.9" r="4.1"/>
<circle cx="463.2" cy="888.1" r="4.1"/>
<circle cx="491.7" cy="892.8" r="4.1"/>
<circle cx="579.0" cy="887.3" r="4.1"/>
<circle cx="640.3" cy="892.5" r="4.1"/>
<circle cx="638.1" cy="896.3" r="4.1"/>
<circle cx="655.8" cy="894.7" r="4.1"/>
<circle cx="661.6" cy="894.7" r="4.1"/>
<circle cx="619.5" cy="901.2" r="4.1"/>
<circle cx="631.1" cy="900.9" r="4.1"/>
<circle cx="629.4" cy="904.2" r="4.1"/>
<circle cx="636.8" cy="907.9" r="4.1"/>
<circle cx="656.6" cy="903.4" r="4.1"/>
<circle cx="660.0" cy="906.8" r="4.1"/>
<circle cx="574.2" cy="906.1" r="4.1"/>
<circle cx="565.1" cy="918.5" r="4.1"/>
<circle cx="658.6" cy="918.5" r="4.1"/>
<circle cx="671.4" cy="707.8" r="4.1"/>
<circle cx="669.2" cy="727.4" r="4.1"/>
<circle cx="715.2" cy="714.8" r="4.1"/>
<circle cx="725.8" cy="729.4" r="4.1"/>
<circle cx="720.1" cy="737.2" r="4.1"/>
<circle cx="684.0" cy="756.8" r="4.1"/>
<circle cx="691.0" cy="758.5" r="4.1"/>
<circle cx="686.8" cy="761.2" r="4.1"/>
<circle cx="704.5" cy="762.0" r="4.1"/>
<circle cx="703.3" cy="768.2" r="4.1"/>
<circle cx="704.0" cy="769.1" r="4.1"/>
<circle cx="665.8" cy="767.1" r="4.1"/>
<circle cx="734.7" cy="765.0" r="4.1"/>
<circle cx="747.3" cy="771.9" r="4.1"/>
<circle cx="668.0" cy="781.8" r="4.1"/>
<circle cx="775.1" cy="774.1" r="4.1"/>
<circle cx="785.6" cy="781.2" r="4.1"/>
<circle cx="801.8" cy="764.4" r="4.1"/>
<circle cx="808.1" cy="697.4" r="4.1"/>
<circle cx="819.8" cy="701.6" r="4.1"/>
<circle cx="829.0" cy="703.8" r="4.1"/>
<circle cx="694.9" cy="791.4" r="4.1"/>
<circle cx="702.3" cy="801.8" r="4.1"/>
<circle cx="710.0" cy="803.0" r="4.1"/>
<circle cx="715.0" cy="804.3" r="4.1"/>
<circle cx="765.6" cy="804.7" r="4.1"/>
<circle cx="688.0" cy="812.4" r="4.1"/>
<circle cx="698.6" cy="809.7" r="4.1"/>
<circle cx="707.3" cy="809.4" r="4.1"/>
<circle cx="712.0" cy="812.7" r="4.1"/>
<circle cx="720.4" cy="814.1" r="4.1"/>
<circle cx="752.3" cy="814.4" r="4.1"/>
<circle cx="771.1" cy="813.9" r="4.1"/>
<circle cx="694.9" cy="822.8" r="4.1"/>
<circle cx="706.1" cy="824.8" r="4.1"/>
<circle cx="705.3" cy="829.5" r="4.1"/>
<circle cx="683.1" cy="832.5" r="4.1"/>
<circle cx="745.9" cy="827.8" r="4.1"/>
<circle cx="760.7" cy="826.5" r="4.1"/>
<circle cx="778.0" cy="829.9" r="4.1"/>
<circle cx="698.6" cy="836.7" r="4.1"/>
<circle cx="691.4" cy="841.3" r="4.1"/>
<circle cx="719.2" cy="838.1" r="4.1"/>
<circle cx="762.4" cy="837.6" r="4.1"/>
<circle cx="757.0" cy="840.8" r="4.1"/>
<circle cx="686.8" cy="849.3" r="4.1"/>
<circle cx="704.8" cy="848.5" r="4.1"/>
<circle cx="732.7" cy="846.3" r="4.1"/>
<circle cx="727.5" cy="851.0" r="4.1"/>
<circle cx="748.5" cy="850.8" r="4.1"/>
<circle cx="753.2" cy="851.3" r="4.1"/>
<circle cx="751.0" cy="854.4" r="4.1"/>
<circle cx="758.7" cy="852.2" r="4.1"/>
<circle cx="677.6" cy="856.4" r="4.1"/>
<circle cx="685.1" cy="854.4" r="4.1"/>
<circle cx="715.2" cy="860.6" r="4.1"/>
<circle cx="730.1" cy="865.6" r="4.1"/>
<circle cx="769.8" cy="864.8" r="4.1"/>
<circle cx="773.1" cy="869.3" r="4.1"/>
<circle cx="722.9" cy="875.7" r="4.1"/>
<circle cx="722.1" cy="879.6" r="4.1"/>
<circle cx="741.7" cy="878.9" r="4.1"/>
<circle cx="681.0" cy="884.3" r="4.1"/>
<circle cx="789.9" cy="901.4" r="4.1"/>
<circle cx="667.5" cy="903.1" r="4.1"/>
<circle cx="702.3" cy="909.8" r="4.1"/>
<circle cx="699.8" cy="913.8" r="4.1"/>
<circle cx="710.8" cy="914.3" r="4.1"/>
<circle cx="696.9" cy="919.3" r="4.1"/>
<circle cx="798.8" cy="918.8" r="4.1"/>
<circle cx="478.6" cy="926.3" r="4.1"/>
<circle cx="521.8" cy="925.6" r="4.1"/>
<circle cx="557.5" cy="924.8" r="4.1"/>
<circle cx="538.6" cy="941.4" r="4.1"/>
<circle cx="636.5" cy="927.6" r="4.1"/>
<circle cx="464.7" cy="946.9" r="4.1"/>
<circle cx="456.3" cy="950.3" r="4.1"/>
<circle cx="458.8" cy="954.0" r="4.1"/>
<circle cx="619.3" cy="950.5" r="4.1"/>
<circle cx="641.2" cy="950.5" r="4.1"/>
<circle cx="647.7" cy="943.6" r="4.1"/>
<circle cx="658.3" cy="959.5" r="4.1"/>
<circle cx="594.0" cy="961.2" r="4.1"/>
<circle cx="599.5" cy="962.6" r="4.1"/>
<circle cx="530.2" cy="968.3" r="4.1"/>
<circle cx="635.3" cy="968.3" r="4.1"/>
<circle cx="654.4" cy="968.3" r="4.1"/>
<circle cx="458.8" cy="975.5" r="4.1"/>
<circle cx="468.9" cy="978.0" r="4.1"/>
<circle cx="510.0" cy="977.2" r="4.1"/>
<circle cx="514.7" cy="981.4" r="4.1"/>
<circle cx="504.1" cy="983.4" r="4.1"/>
<circle cx="624.4" cy="973.8" r="4.1"/>
<circle cx="655.4" cy="975.5" r="4.1"/>
<circle cx="613.5" cy="979.7" r="4.1"/>
<circle cx="579.7" cy="982.2" r="4.1"/>
<circle cx="633.4" cy="985.6" r="4.1"/>
<circle cx="649.6" cy="988.1" r="4.1"/>
<circle cx="454.8" cy="990.3" r="4.1"/>
<circle cx="593.1" cy="988.9" r="4.1"/>
<circle cx="606.2" cy="990.3" r="4.1"/>
<circle cx="560.4" cy="992.6" r="4.1"/>
<circle cx="572.1" cy="993.1" r="4.1"/>
<circle cx="467.7" cy="996.8" r="4.1"/>
<circle cx="477.8" cy="995.6" r="4.1"/>
<circle cx="491.7" cy="996.1" r="4.1"/>
<circle cx="535.7" cy="997.3" r="4.1"/>
<circle cx="579.4" cy="995.1" r="4.1"/>
<circle cx="606.2" cy="996.8" r="4.1"/>
<circle cx="607.1" cy="1001.8" r="4.1"/>
<circle cx="624.7" cy="1001.5" r="4.1"/>
<circle cx="578.5" cy="1002.7" r="4.1"/>
<circle cx="500.4" cy="1004.4" r="4.1"/>
<circle cx="550.5" cy="1005.2" r="4.1"/>
<circle cx="583.9" cy="1008.2" r="4.1"/>
<circle cx="495.9" cy="1010.9" r="4.1"/>
<circle cx="512.7" cy="1012.1" r="4.1"/>
<circle cx="528.5" cy="1013.6" r="4.1"/>
<circle cx="543.8" cy="1013.3" r="4.1"/>
<circle cx="545.8" cy="1014.9" r="4.1"/>
<circle cx="549.6" cy="1013.3" r="4.1"/>
<circle cx="563.1" cy="1014.1" r="4.1"/>
<circle cx="558.9" cy="1017.5" r="4.1"/>
<circle cx="610.4" cy="1009.9" r="4.1"/>
<circle cx="612.9" cy="1013.3" r="4.1"/>
<circle cx="614.6" cy="1015.8" r="4.1"/>
<circle cx="617.1" cy="1015.8" r="4.1"/>
<circle cx="645.7" cy="1010.7" r="4.1"/>
<circle cx="453.4" cy="1016.6" r="4.1"/>
<circle cx="464.0" cy="1018.8" r="4.1"/>
<circle cx="499.6" cy="1017.0" r="4.1"/>
<circle cx="517.6" cy="1016.1" r="4.1"/>
<circle cx="502.1" cy="1020.3" r="4.1"/>
<circle cx="516.4" cy="1020.0" r="4.1"/>
<circle cx="584.4" cy="1017.1" r="4.1"/>
<circle cx="579.4" cy="1021.2" r="4.1"/>
<circle cx="580.2" cy="1025.5" r="4.1"/>
<circle cx="628.1" cy="1019.1" r="4.1"/>
<circle cx="639.8" cy="1022.5" r="4.1"/>
<circle cx="644.3" cy="1021.2" r="4.1"/>
<circle cx="647.7" cy="1024.7" r="4.1"/>
<circle cx="617.1" cy="1024.7" r="4.1"/>
<circle cx="463.0" cy="1025.0" r="4.1"/>
<circle cx="452.1" cy="1027.2" r="4.1"/>
<circle cx="509.3" cy="1028.4" r="4.1"/>
<circle cx="557.0" cy="1031.2" r="4.1"/>
<circle cx="503.0" cy="1033.9" r="4.1"/>
<circle cx="549.1" cy="1035.9" r="4.1"/>
<circle cx="571.5" cy="1034.8" r="4.1"/>
<circle cx="614.6" cy="1033.4" r="4.1"/>
<circle cx="660.0" cy="1031.2" r="4.1"/>
<circle cx="510.0" cy="1039.0" r="4.1"/>
<circle cx="509.3" cy="1044.3" r="4.1"/>
<circle cx="640.3" cy="1039.6" r="4.1"/>
<circle cx="657.4" cy="1039.3" r="4.1"/>
<circle cx="567.9" cy="1044.7" r="4.1"/>
<circle cx="579.7" cy="1045.2" r="4.1"/>
<circle cx="611.6" cy="1044.3" r="4.1"/>
<circle cx="651.6" cy="1046.3" r="4.1"/>
<circle cx="611.3" cy="1049.7" r="4.1"/>
<circle cx="605.4" cy="1051.0" r="4.1"/>
<circle cx="588.9" cy="1051.9" r="4.1"/>
<circle cx="466.5" cy="1055.7" r="4.1"/>
<circle cx="487.0" cy="1058.1" r="4.1"/>
<circle cx="510.0" cy="1057.4" r="4.1"/>
<circle cx="550.5" cy="1054.4" r="4.1"/>
<circle cx="566.8" cy="1055.2" r="4.1"/>
<circle cx="572.1" cy="1054.7" r="4.1"/>
<circle cx="574.3" cy="1055.7" r="4.1"/>
<circle cx="597.3" cy="1054.4" r="4.1"/>
<circle cx="581.9" cy="1058.1" r="4.1"/>
<circle cx="583.6" cy="1059.4" r="4.1"/>
<circle cx="484.5" cy="1063.1" r="4.1"/>
<circle cx="566.3" cy="1062.5" r="4.1"/>
<circle cx="582.7" cy="1063.6" r="4.1"/>
<circle cx="447.9" cy="1070.7" r="4.1"/>
<circle cx="460.1" cy="1072.9" r="4.1"/>
<circle cx="522.3" cy="1067.8" r="4.1"/>
<circle cx="542.8" cy="1069.9" r="4.1"/>
<circle cx="502.5" cy="1075.1" r="4.1"/>
<circle cx="562.2" cy="1076.6" r="4.1"/>
<circle cx="579.4" cy="1072.5" r="4.1"/>
<circle cx="581.4" cy="1070.4" r="4.1"/>
<circle cx="588.9" cy="1074.2" r="4.1"/>
<circle cx="628.9" cy="1068.7" r="4.1"/>
<circle cx="639.3" cy="1066.5" r="4.1"/>
<circle cx="627.7" cy="1077.1" r="4.1"/>
<circle cx="632.6" cy="1076.6" r="4.1"/>
<circle cx="654.4" cy="1074.0" r="4.1"/>
<circle cx="598.7" cy="1080.1" r="4.1"/>
<circle cx="541.2" cy="1080.1" r="4.1"/>
<circle cx="641.8" cy="1082.9" r="4.1"/>
<circle cx="446.2" cy="1084.1" r="4.1"/>
<circle cx="530.2" cy="1086.6" r="4.1"/>
<circle cx="491.2" cy="1100.1" r="4.1"/>
<circle cx="533.7" cy="1098.4" r="4.1"/>
<circle cx="548.3" cy="1099.4" r="4.1"/>
<circle cx="609.6" cy="1100.6" r="4.1"/>
<circle cx="615.8" cy="1105.1" r="4.1"/>
<circle cx="623.0" cy="1106.1" r="4.1"/>
<circle cx="628.9" cy="1109.8" r="4.1"/>
<circle cx="614.1" cy="1112.0" r="4.1"/>
<circle cx="451.4" cy="1106.5" r="4.1"/>
<circle cx="458.5" cy="1124.9" r="4.1"/>
<circle cx="616.0" cy="1125.4" r="4.1"/>
<circle cx="642.7" cy="1126.1" r="4.1"/>
<circle cx="673.9" cy="961.2" r="4.1"/>
<circle cx="686.8" cy="959.9" r="4.1"/>
<circle cx="681.0" cy="970.1" r="4.1"/>
<circle cx="696.4" cy="973.8" r="4.1"/>
<circle cx="754.8" cy="996.1" r="4.1"/>
<circle cx="669.2" cy="1009.1" r="4.1"/>
<circle cx="676.8" cy="1010.2" r="4.1"/>
<circle cx="665.8" cy="1016.1" r="4.1"/>
<circle cx="696.1" cy="1016.1" r="4.1"/>
<circle cx="697.7" cy="1018.3" r="4.1"/>
<circle cx="745.1" cy="1011.6" r="4.1"/>
<circle cx="722.6" cy="1036.8" r="4.1"/>
<circle cx="675.4" cy="1039.3" r="4.1"/>
<circle cx="669.2" cy="1048.7" r="4.1"/>
<circle cx="678.9" cy="1055.4" r="4.1"/>
<circle cx="697.2" cy="1056.9" r="4.1"/>
<circle cx="719.2" cy="1070.0" r="4.1"/>
<circle cx="665.8" cy="1083.8" r="4.1"/>
<circle cx="714.5" cy="1080.8" r="4.1"/>
<circle cx="715.0" cy="1085.5" r="4.1"/>
<circle cx="736.7" cy="1079.9" r="4.1"/>
<circle cx="737.2" cy="1080.4" r="4.1"/>
<circle cx="805.5" cy="1073.4" r="4.1"/>
<circle cx="684.3" cy="1098.1" r="4.1"/>
<circle cx="686.5" cy="1124.6" r="4.1"/>
<circle cx="754.3" cy="1125.8" r="4.1"/>
<circle cx="816.5" cy="1120.4" r="4.1"/>
<circle cx="1226.8" cy="886.1" r="4.1"/>
</g><g fill="none" stroke="#009a00" stroke-width="2.2">
<circle cx="839.5" cy="765.0" r="4.1"/>
<circle cx="856.2" cy="788.7" r="4.1"/>
<circle cx="866.0" cy="843.8" r="4.1"/>
<circle cx="849.4" cy="874.2" r="4.1"/>
<circle cx="841.0" cy="903.7" r="4.1"/>
<circle cx="817.5" cy="1114.0" r="4.1"/>
<circle cx="882.8" cy="1026.4" r="4.1"/>
<circle cx="951.8" cy="714.8" r="4.1"/>
<circle cx="973.6" cy="755.1" r="4.1"/>
<circle cx="1023.8" cy="743.4" r="4.1"/>
<circle cx="890.8" cy="755.6" r="4.1"/>
<circle cx="896.4" cy="761.2" r="4.1"/>
<circle cx="1040.6" cy="781.8" r="4.1"/>
<circle cx="930.3" cy="798.5" r="4.1"/>
<circle cx="919.7" cy="856.9" r="4.1"/>
<circle cx="961.7" cy="859.2" r="4.1"/>
<circle cx="943.4" cy="864.8" r="4.1"/>
<circle cx="890.8" cy="873.2" r="4.1"/>
<circle cx="896.7" cy="919.3" r="4.1"/>
<circle cx="964.4" cy="937.4" r="4.1"/>
<circle cx="947.1" cy="950.8" r="4.1"/>
<circle cx="910.1" cy="970.8" r="4.1"/>
<circle cx="893.9" cy="987.7" r="4.1"/>
<circle cx="974.3" cy="996.0" r="4.1"/>
<circle cx="929.0" cy="1014.1" r="4.1"/>
<circle cx="939.2" cy="1101.9" r="4.1"/>
<circle cx="998.6" cy="1101.9" r="4.1"/>
<circle cx="914.0" cy="1123.2" r="4.1"/>
<circle cx="974.8" cy="1125.3" r="4.1"/>
<circle cx="1095.7" cy="1128.6" r="4.1"/>
</g><g fill="none" stroke="#f00" stroke-width="1.7">
<circle cx="790.9" cy="804.7" r="4.1"/>
<circle cx="874.4" cy="785.9" r="4.1"/>
<circle cx="881.8" cy="816.6" r="4.1"/>
<circle cx="776.7" cy="846.0" r="4.1"/>
<circle cx="772.8" cy="886.4" r="4.1"/>
<circle cx="939.2" cy="691.8" r="4.1"/>
<circle cx="951.0" cy="686.8" r="4.1"/>
<circle cx="1036.1" cy="691.8" r="4.1"/>
<circle cx="1076.9" cy="705.3" r="4.1"/>
<circle cx="1091.5" cy="705.3" r="4.1"/>
<circle cx="1110.3" cy="730.8" r="4.1"/>
<circle cx="1012.6" cy="733.8" r="4.1"/>
<circle cx="1034.1" cy="729.4" r="4.1"/>
<circle cx="935.8" cy="747.1" r="4.1"/>
<circle cx="958.3" cy="746.9" r="4.1"/>
<circle cx="961.9" cy="747.6" r="4.1"/>
<circle cx="1050.2" cy="747.1" r="4.1"/>
<circle cx="986.0" cy="761.7" r="4.1"/>
<circle cx="1096.4" cy="762.2" r="4.1"/>
<circle cx="962.2" cy="768.6" r="4.1"/>
<circle cx="1072.7" cy="790.9" r="4.1"/>
<circle cx="896.7" cy="796.3" r="4.1"/>
<circle cx="1044.6" cy="804.0" r="4.1"/>
<circle cx="1009.7" cy="808.4" r="4.1"/>
<circle cx="973.5" cy="824.5" r="4.1"/>
<circle cx="981.2" cy="828.0" r="4.1"/>
<circle cx="951.5" cy="832.7" r="4.1"/>
<circle cx="929.0" cy="845.5" r="4.1"/>
<circle cx="943.4" cy="851.0" r="4.1"/>
<circle cx="1038.3" cy="841.8" r="4.1"/>
<circle cx="1095.7" cy="863.4" r="4.1"/>
<circle cx="896.7" cy="878.2" r="4.1"/>
<circle cx="894.0" cy="893.3" r="4.1"/>
<circle cx="930.3" cy="923.4" r="4.1"/>
<circle cx="1000.0" cy="959.9" r="4.1"/>
<circle cx="1042.5" cy="963.2" r="4.1"/>
<circle cx="946.9" cy="968.9" r="4.1"/>
<circle cx="974.1" cy="1012.1" r="4.1"/>
<circle cx="992.3" cy="1014.9" r="4.1"/>
<circle cx="1062.8" cy="1014.3" r="4.1"/>
<circle cx="979.0" cy="1054.7" r="4.1"/>
<circle cx="1098.4" cy="1038.8" r="4.1"/>
<circle cx="1087.8" cy="1047.9" r="4.1"/>
<circle cx="998.3" cy="1114.7" r="4.1"/>
<circle cx="1151.5" cy="691.8" r="4.1"/>
<circle cx="1162.6" cy="701.1" r="4.1"/>
<circle cx="1141.1" cy="724.6" r="4.1"/>
<circle cx="1188.5" cy="797.1" r="4.1"/>
<circle cx="1118.5" cy="809.0" r="4.1"/>
<circle cx="1133.9" cy="823.6" r="4.1"/>
<circle cx="1197.7" cy="835.7" r="4.1"/>
<circle cx="1168.0" cy="845.5" r="4.1"/>
<circle cx="1122.8" cy="867.6" r="4.1"/>
<circle cx="1217.5" cy="874.5" r="4.1"/>
<circle cx="1122.8" cy="885.8" r="4.1"/>
</g><g fill="#f00" stroke="none">
<circle cx="840.8" cy="699.6" r="7.2"/>
<circle cx="831.7" cy="756.6" r="7.2"/>
<circle cx="805.7" cy="786.4" r="7.2"/>
<circle cx="839.6" cy="790.6" r="7.2"/>
<circle cx="856.4" cy="802.6" r="7.2"/>
<circle cx="810.2" cy="817.4" r="7.2"/>
<circle cx="809.1" cy="824.1" r="7.2"/>
<circle cx="863.3" cy="823.6" r="7.2"/>
<circle cx="849.4" cy="835.4" r="7.2"/>
<circle cx="792.1" cy="863.4" r="7.2"/>
<circle cx="883.3" cy="894.7" r="7.2"/>
<circle cx="866.2" cy="903.1" r="7.2"/>
<circle cx="882.8" cy="1037.3" r="7.2"/>
<circle cx="869.3" cy="1088.8" r="7.2"/>
<circle cx="894.7" cy="694.0" r="7.2"/>
<circle cx="1023.8" cy="738.0" r="7.2"/>
<circle cx="919.9" cy="762.9" r="7.2"/>
<circle cx="890.8" cy="766.0" r="7.2"/>
<circle cx="1060.8" cy="762.2" r="7.2"/>
<circle cx="935.7" cy="803.2" r="7.2"/>
<circle cx="965.2" cy="823.6" r="7.2"/>
<circle cx="895.9" cy="832.9" r="7.2"/>
<circle cx="890.8" cy="828.7" r="7.2"/>
<circle cx="910.1" cy="847.1" r="7.2"/>
<circle cx="964.4" cy="874.7" r="7.2"/>
<circle cx="914.0" cy="1118.2" r="7.2"/>
<circle cx="974.8" cy="1120.2" r="7.2"/>
</g><g fill="#fff" fill-opacity="0.85" stroke="none">
<circle cx="840.8" cy="699.6" r="0.7"/>
<circle cx="831.7" cy="756.6" r="0.7"/>
<circle cx="805.7" cy="786.4" r="0.7"/>
<circle cx="839.6" cy="790.6" r="0.7"/>
<circle cx="856.4" cy="802.6" r="0.7"/>
<circle cx="810.2" cy="817.4" r="0.7"/>
<circle cx="809.1" cy="824.1" r="0.7"/>
<circle cx="863.3" cy="823.6" r="0.7"/>
<circle cx="849.4" cy="835.4" r="0.7"/>
<circle cx="792.1" cy="863.4" r="0.7"/>
<circle cx="883.3" cy="894.7" r="0.7"/>
<circle cx="866.2" cy="903.1" r="0.7"/>
<circle cx="882.8" cy="1037.3" r="0.7"/>
<circle cx="869.3" cy="1088.8" r="0.7"/>
<circle cx="894.7" cy="694.0" r="0.7"/>
<circle cx="1023.8" cy="738.0" r="0.7"/>
<circle cx="919.9" cy="762.9" r="0.7"/>
<circle cx="890.8" cy="766.0" r="0.7"/>
<circle cx="1060.8" cy="762.2" r="0.7"/>
<circle cx="935.7" cy="803.2" r="0.7"/>
<circle cx="965.2" cy="823.6" r="0.7"/>
<circle cx="895.9" cy="832.9" r="0.7"/>
<circle cx="890.8" cy="828.7" r="0.7"/>
<circle cx="910.1" cy="847.1" r="0.7"/>
<circle cx="964.4" cy="874.7" r="0.7"/>
<circle cx="914.0" cy="1118.2" r="0.7"/>
<circle cx="974.8" cy="1120.2" r="0.7"/>
</g><g fill="none" stroke="#009a00" stroke-width="2.3">
<circle cx="814.4" cy="820.5" r="16.3"/>
<circle cx="950.4" cy="803.7" r="16.3"/>
</g>
<g stroke="#00f" stroke-width="2.3" fill="#00f">
<path d="M257.0 984.0V1200.0M216.0 984.0H298.0M216.0 1200.0H298.0" fill="none"/>
<circle cx="257.0" cy="1058.0" r="13.4" stroke="none"/>
<path d="M323.0 945.4V1121.7M282.0 945.4H364.0M282.0 1121.7H364.0" fill="none"/>
<circle cx="323.0" cy="1032.7" r="13.4" stroke="none"/>
<path d="M389.5 937.4V1200.0M348.5 937.4H430.5M348.5 1200.0H430.5" fill="none"/>
<circle cx="389.5" cy="1060.3" r="13.4" stroke="none"/>
<path d="M456.8 952.8V1200.0M415.8 952.8H497.8M415.8 1200.0H497.8" fill="none"/>
<circle cx="456.8" cy="1046.2" r="13.4" stroke="none"/>
<path d="M529.7 959.5V1106.6M488.7 959.5H570.7M488.7 1106.6H570.7" fill="none"/>
<circle cx="529.7" cy="1033.4" r="13.4" stroke="none"/>
<path d="M601.5 958.2V1098.9M560.5 958.2H642.5M560.5 1098.9H642.5" fill="none"/>
<circle cx="601.5" cy="1029.4" r="13.4" stroke="none"/>
<path d="M668.7 816.5V1054.6M627.7 816.5H709.7M627.7 1054.6H709.7" fill="none"/>
<circle cx="668.7" cy="936.0" r="13.4" stroke="none"/>
<path d="M734.8 738.6V901.8M693.8 738.6H775.8M693.8 901.8H775.8" fill="none"/>
<circle cx="734.8" cy="820.2" r="13.4" stroke="none"/>
<path d="M814.4 718.4V878.9M773.4 718.4H855.4M773.4 878.9H855.4" fill="none"/>
<circle cx="814.4" cy="798.3" r="13.4" stroke="none"/>
<path d="M950.4 692.6V888.0M909.4 692.6H991.4M909.4 888.0H991.4" fill="none"/>
<circle cx="950.4" cy="790.3" r="13.4" stroke="none"/>
<path d="M1138.8 691.9V885.0M1097.8 691.9H1179.8M1097.8 885.0H1179.8" fill="none"/>
<circle cx="1138.8" cy="788.6" r="13.4" stroke="none"/>
</g></g>
<g clip-path="url(#cc)">
<g fill="none" stroke="#000" stroke-width="1.65">
<circle cx="341.9" cy="1214.6" r="4.1"/>
<circle cx="401.2" cy="1232.7" r="4.1"/>
<circle cx="269.4" cy="1295.4" r="4.1"/>
<circle cx="270.6" cy="1335.2" r="4.1"/>
<circle cx="207.1" cy="1347.8" r="4.1"/>
<circle cx="270.6" cy="1354.8" r="4.1"/>
<circle cx="278.5" cy="1354.8" r="4.1"/>
<circle cx="210.6" cy="1371.6" r="4.1"/>
<circle cx="297.8" cy="1365.9" r="4.1"/>
<circle cx="343.3" cy="1353.3" r="4.1"/>
<circle cx="367.6" cy="1362.9" r="4.1"/>
<circle cx="391.1" cy="1374.3" r="4.1"/>
<circle cx="328.5" cy="1386.0" r="4.1"/>
<circle cx="315.9" cy="1399.5" r="4.1"/>
<circle cx="321.4" cy="1414.1" r="4.1"/>
<circle cx="288.2" cy="1419.0" r="4.1"/>
<circle cx="332.7" cy="1428.7" r="4.1"/>
<circle cx="371.0" cy="1419.0" r="4.1"/>
<circle cx="372.5" cy="1423.8" r="4.1"/>
<circle cx="579.9" cy="1232.4" r="4.1"/>
<circle cx="611.4" cy="1232.4" r="4.1"/>
<circle cx="628.7" cy="1270.2" r="4.1"/>
<circle cx="491.2" cy="1278.6" r="4.1"/>
<circle cx="572.1" cy="1280.9" r="4.1"/>
<circle cx="458.5" cy="1303.8" r="4.1"/>
<circle cx="565.7" cy="1319.9" r="4.1"/>
<circle cx="499.6" cy="1323.4" r="4.1"/>
<circle cx="445.7" cy="1326.3" r="4.1"/>
<circle cx="443.5" cy="1331.8" r="4.1"/>
<circle cx="429.1" cy="1336.5" r="4.1"/>
<circle cx="550.5" cy="1336.5" r="4.1"/>
<circle cx="593.3" cy="1339.9" r="4.1"/>
<circle cx="456.3" cy="1341.4" r="4.1"/>
<circle cx="462.5" cy="1353.1" r="4.1"/>
<circle cx="628.2" cy="1354.5" r="4.1"/>
<circle cx="521.8" cy="1372.9" r="4.1"/>
<circle cx="534.0" cy="1379.0" r="4.1"/>
<circle cx="451.4" cy="1389.7" r="4.1"/>
<circle cx="453.2" cy="1394.8" r="4.1"/>
<circle cx="504.3" cy="1389.7" r="4.1"/>
<circle cx="517.1" cy="1392.4" r="4.1"/>
<circle cx="610.2" cy="1386.2" r="4.1"/>
<circle cx="616.8" cy="1386.2" r="4.1"/>
<circle cx="549.1" cy="1395.8" r="4.1"/>
<circle cx="431.2" cy="1402.2" r="4.1"/>
<circle cx="464.5" cy="1402.0" r="4.1"/>
<circle cx="487.0" cy="1402.2" r="4.1"/>
<circle cx="640.0" cy="1402.0" r="4.1"/>
<circle cx="624.5" cy="1405.5" r="4.1"/>
<circle cx="499.4" cy="1407.9" r="4.1"/>
<circle cx="501.6" cy="1417.6" r="4.1"/>
<circle cx="597.1" cy="1414.4" r="4.1"/>
<circle cx="613.9" cy="1419.0" r="4.1"/>
<circle cx="556.7" cy="1419.0" r="4.1"/>
<circle cx="580.4" cy="1422.6" r="4.1"/>
<circle cx="542.7" cy="1425.8" r="4.1"/>
<circle cx="485.0" cy="1427.4" r="4.1"/>
<circle cx="431.2" cy="1430.7" r="4.1"/>
<circle cx="530.1" cy="1430.9" r="4.1"/>
<circle cx="467.4" cy="1446.5" r="4.1"/>
<circle cx="447.7" cy="1450.2" r="4.1"/>
<circle cx="484.8" cy="1449.3" r="4.1"/>
<circle cx="228.8" cy="1461.4" r="4.1"/>
<circle cx="372.5" cy="1465.1" r="4.1"/>
<circle cx="240.7" cy="1501.2" r="4.1"/>
<circle cx="326.5" cy="1504.7" r="4.1"/>
<circle cx="392.0" cy="1513.5" r="4.1"/>
<circle cx="228.8" cy="1529.1" r="4.1"/>
<circle cx="257.3" cy="1531.4" r="4.1"/>
<circle cx="303.3" cy="1534.0" r="4.1"/>
<circle cx="371.0" cy="1531.4" r="4.1"/>
<circle cx="354.2" cy="1542.5" r="4.1"/>
<circle cx="364.1" cy="1546.0" r="4.1"/>
<circle cx="278.3" cy="1572.4" r="4.1"/>
<circle cx="283.2" cy="1617.1" r="4.1"/>
<circle cx="338.1" cy="1619.9" r="4.1"/>
<circle cx="393.3" cy="1635.4" r="4.1"/>
<circle cx="204.9" cy="1682.7" r="4.1"/>
<circle cx="459.8" cy="1459.2" r="4.1"/>
<circle cx="509.8" cy="1455.4" r="4.1"/>
<circle cx="522.6" cy="1460.1" r="4.1"/>
<circle cx="495.9" cy="1468.1" r="4.1"/>
<circle cx="500.3" cy="1473.2" r="4.1"/>
<circle cx="433.4" cy="1478.0" r="4.1"/>
<circle cx="580.4" cy="1458.4" r="4.1"/>
<circle cx="583.9" cy="1461.4" r="4.1"/>
<circle cx="603.0" cy="1469.3" r="4.1"/>
<circle cx="616.1" cy="1468.1" r="4.1"/>
<circle cx="605.2" cy="1476.9" r="4.1"/>
<circle cx="629.6" cy="1471.8" r="4.1"/>
<circle cx="639.3" cy="1481.6" r="4.1"/>
<circle cx="530.0" cy="1476.5" r="4.1"/>
<circle cx="529.1" cy="1479.9" r="4.1"/>
<circle cx="509.0" cy="1485.3" r="4.1"/>
<circle cx="514.9" cy="1485.3" r="4.1"/>
<circle cx="491.9" cy="1488.1" r="4.1"/>
<circle cx="466.2" cy="1492.8" r="4.1"/>
<circle cx="563.1" cy="1486.4" r="4.1"/>
<circle cx="571.5" cy="1485.3" r="4.1"/>
<circle cx="566.9" cy="1496.2" r="4.1"/>
<circle cx="567.8" cy="1496.7" r="4.1"/>
<circle cx="582.0" cy="1497.4" r="4.1"/>
<circle cx="598.8" cy="1485.3" r="4.1"/>
<circle cx="616.1" cy="1492.8" r="4.1"/>
<circle cx="600.8" cy="1496.2" r="4.1"/>
<circle cx="545.1" cy="1497.9" r="4.1"/>
<circle cx="579.5" cy="1501.2" r="4.1"/>
<circle cx="581.2" cy="1504.9" r="4.1"/>
<circle cx="505.1" cy="1511.0" r="4.1"/>
<circle cx="517.4" cy="1508.3" r="4.1"/>
<circle cx="605.5" cy="1505.1" r="4.1"/>
<circle cx="613.9" cy="1510.8" r="4.1"/>
<circle cx="588.8" cy="1513.3" r="4.1"/>
<circle cx="512.7" cy="1517.5" r="4.1"/>
<circle cx="511.5" cy="1521.7" r="4.1"/>
<circle cx="491.9" cy="1519.2" r="4.1"/>
<circle cx="462.0" cy="1521.4" r="4.1"/>
<circle cx="477.9" cy="1524.0" r="4.1"/>
<circle cx="440.5" cy="1526.4" r="4.1"/>
<circle cx="579.5" cy="1519.2" r="4.1"/>
<circle cx="574.0" cy="1524.0" r="4.1"/>
<circle cx="582.5" cy="1527.7" r="4.1"/>
<circle cx="624.5" cy="1518.0" r="4.1"/>
<circle cx="635.9" cy="1518.0" r="4.1"/>
<circle cx="509.8" cy="1531.4" r="4.1"/>
<circle cx="538.7" cy="1534.0" r="4.1"/>
<circle cx="544.6" cy="1533.5" r="4.1"/>
<circle cx="548.5" cy="1541.2" r="4.1"/>
<circle cx="554.3" cy="1539.8" r="4.1"/>
<circle cx="593.5" cy="1539.8" r="4.1"/>
<circle cx="616.1" cy="1536.1" r="4.1"/>
<circle cx="463.3" cy="1542.0" r="4.1"/>
<circle cx="464.2" cy="1547.4" r="4.1"/>
<circle cx="451.9" cy="1549.9" r="4.1"/>
<circle cx="451.6" cy="1550.7" r="4.1"/>
<circle cx="544.3" cy="1550.7" r="4.1"/>
<circle cx="593.3" cy="1550.7" r="4.1"/>
<circle cx="611.1" cy="1550.7" r="4.1"/>
<circle cx="461.1" cy="1559.1" r="4.1"/>
<circle cx="584.2" cy="1556.6" r="4.1"/>
<circle cx="581.2" cy="1559.5" r="4.1"/>
<circle cx="623.2" cy="1563.8" r="4.1"/>
<circle cx="509.5" cy="1567.2" r="4.1"/>
<circle cx="599.2" cy="1567.2" r="4.1"/>
<circle cx="469.0" cy="1570.2" r="4.1"/>
<circle cx="640.8" cy="1568.9" r="4.1"/>
<circle cx="619.8" cy="1570.2" r="4.1"/>
<circle cx="606.4" cy="1575.1" r="4.1"/>
<circle cx="614.8" cy="1574.8" r="4.1"/>
<circle cx="458.3" cy="1577.3" r="4.1"/>
<circle cx="578.3" cy="1577.1" r="4.1"/>
<circle cx="559.7" cy="1578.8" r="4.1"/>
<circle cx="629.4" cy="1578.8" r="4.1"/>
<circle cx="616.5" cy="1580.6" r="4.1"/>
<circle cx="478.4" cy="1583.5" r="4.1"/>
<circle cx="436.8" cy="1587.2" r="4.1"/>
<circle cx="509.5" cy="1587.2" r="4.1"/>
<circle cx="549.0" cy="1587.2" r="4.1"/>
<circle cx="611.4" cy="1583.5" r="4.1"/>
<circle cx="605.5" cy="1587.2" r="4.1"/>
<circle cx="636.6" cy="1591.9" r="4.1"/>
<circle cx="641.3" cy="1590.7" r="4.1"/>
<circle cx="645.0" cy="1591.9" r="4.1"/>
<circle cx="567.3" cy="1591.9" r="4.1"/>
<circle cx="628.7" cy="1595.2" r="4.1"/>
<circle cx="610.2" cy="1596.9" r="4.1"/>
<circle cx="584.2" cy="1599.9" r="4.1"/>
<circle cx="558.9" cy="1602.0" r="4.1"/>
<circle cx="425.5" cy="1617.1" r="4.1"/>
<circle cx="574.1" cy="1611.5" r="4.1"/>
<circle cx="541.6" cy="1613.2" r="4.1"/>
<circle cx="502.3" cy="1617.9" r="4.1"/>
<circle cx="517.7" cy="1619.9" r="4.1"/>
<circle cx="550.6" cy="1619.9" r="4.1"/>
<circle cx="454.8" cy="1619.9" r="4.1"/>
<circle cx="502.3" cy="1623.3" r="4.1"/>
<circle cx="610.1" cy="1617.1" r="4.1"/>
<circle cx="621.0" cy="1619.9" r="4.1"/>
<circle cx="633.8" cy="1619.9" r="4.1"/>
<circle cx="636.6" cy="1622.1" r="4.1"/>
<circle cx="535.9" cy="1626.6" r="4.1"/>
<circle cx="456.1" cy="1629.7" r="4.1"/>
<circle cx="477.9" cy="1633.0" r="4.1"/>
<circle cx="619.8" cy="1640.1" r="4.1"/>
<circle cx="536.7" cy="1646.1" r="4.1"/>
<circle cx="482.6" cy="1651.0" r="4.1"/>
<circle cx="557.4" cy="1649.8" r="4.1"/>
<circle cx="642.5" cy="1644.8" r="4.1"/>
<circle cx="637.9" cy="1649.8" r="4.1"/>
<circle cx="613.9" cy="1654.5" r="4.1"/>
<circle cx="632.9" cy="1654.9" r="4.1"/>
<circle cx="642.5" cy="1655.7" r="4.1"/>
<circle cx="599.2" cy="1659.6" r="4.1"/>
<circle cx="588.8" cy="1664.4" r="4.1"/>
<circle cx="491.0" cy="1670.8" r="4.1"/>
<circle cx="565.2" cy="1673.0" r="4.1"/>
<circle cx="560.2" cy="1678.9" r="4.1"/>
<circle cx="631.6" cy="1677.9" r="4.1"/>
<circle cx="579.0" cy="1682.6" r="4.1"/>
<circle cx="622.3" cy="1685.9" r="4.1"/>
<circle cx="572.0" cy="1695.5" r="4.1"/>
<circle cx="613.1" cy="1698.5" r="4.1"/>
<circle cx="641.6" cy="1698.5" r="4.1"/>
<circle cx="702.6" cy="1465.1" r="4.1"/>
<circle cx="665.1" cy="1490.3" r="4.1"/>
<circle cx="657.9" cy="1494.8" r="4.1"/>
<circle cx="686.6" cy="1491.5" r="4.1"/>
<circle cx="658.8" cy="1514.3" r="4.1"/>
<circle cx="715.2" cy="1514.3" r="4.1"/>
<circle cx="651.7" cy="1526.4" r="4.1"/>
<circle cx="661.5" cy="1527.7" r="4.1"/>
<circle cx="671.4" cy="1524.0" r="4.1"/>
<circle cx="674.7" cy="1534.0" r="4.1"/>
<circle cx="657.3" cy="1539.8" r="4.1"/>
<circle cx="698.4" cy="1551.9" r="4.1"/>
<circle cx="648.0" cy="1563.3" r="4.1"/>
<circle cx="650.5" cy="1572.6" r="4.1"/>
<circle cx="681.1" cy="1568.9" r="4.1"/>
<circle cx="697.9" cy="1573.9" r="4.1"/>
<circle cx="686.5" cy="1582.1" r="4.1"/>
<circle cx="719.4" cy="1578.8" r="4.1"/>
<circle cx="714.3" cy="1583.8" r="4.1"/>
<circle cx="705.4" cy="1590.2" r="4.1"/>
<circle cx="660.1" cy="1593.6" r="4.1"/>
<circle cx="697.1" cy="1599.9" r="4.1"/>
<circle cx="711.0" cy="1600.6" r="4.1"/>
<circle cx="669.3" cy="1600.3" r="4.1"/>
<circle cx="652.1" cy="1600.6" r="4.1"/>
<circle cx="657.6" cy="1602.0" r="4.1"/>
<circle cx="648.0" cy="1609.9" r="4.1"/>
<circle cx="770.9" cy="1591.9" r="4.1"/>
<circle cx="770.1" cy="1599.9" r="4.1"/>
<circle cx="808.2" cy="1596.9" r="4.1"/>
<circle cx="752.5" cy="1611.5" r="4.1"/>
<circle cx="670.2" cy="1613.7" r="4.1"/>
<circle cx="677.7" cy="1616.2" r="4.1"/>
<circle cx="678.6" cy="1617.4" r="4.1"/>
<circle cx="721.7" cy="1618.1" r="4.1"/>
<circle cx="725.9" cy="1624.6" r="4.1"/>
<circle cx="694.9" cy="1625.0" r="4.1"/>
<circle cx="656.8" cy="1624.6" r="4.1"/>
<circle cx="706.3" cy="1628.5" r="4.1"/>
<circle cx="711.8" cy="1629.7" r="4.1"/>
<circle cx="719.2" cy="1633.0" r="4.1"/>
<circle cx="730.6" cy="1635.2" r="4.1"/>
<circle cx="750.8" cy="1631.7" r="4.1"/>
<circle cx="773.5" cy="1628.0" r="4.1"/>
<circle cx="799.1" cy="1638.1" r="4.1"/>
<circle cx="762.5" cy="1640.2" r="4.1"/>
<circle cx="741.9" cy="1641.4" r="4.1"/>
<circle cx="659.3" cy="1636.4" r="4.1"/>
<circle cx="667.7" cy="1643.1" r="4.1"/>
<circle cx="646.7" cy="1641.4" r="4.1"/>
<circle cx="648.0" cy="1645.6" r="4.1"/>
<circle cx="654.6" cy="1651.0" r="4.1"/>
<circle cx="694.9" cy="1651.0" r="4.1"/>
<circle cx="760.9" cy="1651.2" r="4.1"/>
<circle cx="775.5" cy="1649.8" r="4.1"/>
<circle cx="816.3" cy="1640.6" r="4.1"/>
<circle cx="686.1" cy="1655.7" r="4.1"/>
<circle cx="682.8" cy="1658.2" r="4.1"/>
<circle cx="678.6" cy="1663.2" r="4.1"/>
<circle cx="654.2" cy="1660.7" r="4.1"/>
<circle cx="704.1" cy="1660.7" r="4.1"/>
<circle cx="698.7" cy="1665.3" r="4.1"/>
<circle cx="742.9" cy="1657.7" r="4.1"/>
<circle cx="754.6" cy="1659.6" r="4.1"/>
<circle cx="778.5" cy="1661.2" r="4.1"/>
<circle cx="758.0" cy="1664.1" r="4.1"/>
<circle cx="757.2" cy="1664.9" r="4.1"/>
<circle cx="829.7" cy="1666.6" r="4.1"/>
<circle cx="664.8" cy="1669.1" r="4.1"/>
<circle cx="674.0" cy="1673.3" r="4.1"/>
<circle cx="696.2" cy="1670.0" r="4.1"/>
<circle cx="687.0" cy="1674.2" r="4.1"/>
<circle cx="707.6" cy="1673.0" r="4.1"/>
<circle cx="755.0" cy="1677.9" r="4.1"/>
<circle cx="675.7" cy="1682.6" r="4.1"/>
<circle cx="666.0" cy="1682.6" r="4.1"/>
<circle cx="655.9" cy="1683.7" r="4.1"/>
<circle cx="649.2" cy="1683.7" r="4.1"/>
<circle cx="698.7" cy="1685.9" r="4.1"/>
<circle cx="688.3" cy="1688.8" r="4.1"/>
<circle cx="684.1" cy="1692.6" r="4.1"/>
<circle cx="665.7" cy="1691.3" r="4.1"/>
<circle cx="732.3" cy="1682.6" r="4.1"/>
<circle cx="802.0" cy="1688.4" r="4.1"/>
<circle cx="820.0" cy="1696.0" r="4.1"/>
<circle cx="650.9" cy="1694.3" r="4.1"/>
<circle cx="714.7" cy="1698.5" r="4.1"/>
<circle cx="723.1" cy="1700.2" r="4.1"/>
<circle cx="294.4" cy="1732.3" r="4.1"/>
<circle cx="386.4" cy="1732.3" r="4.1"/>
<circle cx="419.5" cy="1732.3" r="4.1"/>
<circle cx="524.6" cy="1765.1" r="4.1"/>
<circle cx="627.9" cy="1773.5" r="4.1"/>
<circle cx="640.5" cy="1781.8" r="4.1"/>
<circle cx="646.7" cy="1703.4" r="4.1"/>
<circle cx="655.4" cy="1712.7" r="4.1"/>
<circle cx="662.3" cy="1715.5" r="4.1"/>
<circle cx="690.7" cy="1704.3" r="4.1"/>
<circle cx="685.3" cy="1706.8" r="4.1"/>
<circle cx="691.7" cy="1715.5" r="4.1"/>
<circle cx="700.4" cy="1717.4" r="4.1"/>
<circle cx="696.2" cy="1722.4" r="4.1"/>
<circle cx="737.0" cy="1706.0" r="4.1"/>
<circle cx="736.5" cy="1715.2" r="4.1"/>
<circle cx="734.0" cy="1715.5" r="4.1"/>
<circle cx="747.4" cy="1715.5" r="4.1"/>
<circle cx="765.6" cy="1704.3" r="4.1"/>
<circle cx="785.7" cy="1714.0" r="4.1"/>
<circle cx="702.9" cy="1733.7" r="4.1"/>
<circle cx="723.1" cy="1728.6" r="4.1"/>
<circle cx="721.4" cy="1731.6" r="4.1"/>
<circle cx="715.2" cy="1737.0" r="4.1"/>
<circle cx="684.5" cy="1738.7" r="4.1"/>
<circle cx="704.6" cy="1743.4" r="4.1"/>
<circle cx="709.6" cy="1745.1" r="4.1"/>
<circle cx="745.4" cy="1740.4" r="4.1"/>
<circle cx="752.8" cy="1745.1" r="4.1"/>
<circle cx="790.2" cy="1748.8" r="4.1"/>
<circle cx="681.1" cy="1761.7" r="4.1"/>
<circle cx="748.6" cy="1765.1" r="4.1"/>
<circle cx="701.9" cy="1797.6" r="4.1"/>
<circle cx="1227.6" cy="1394.1" r="4.1"/>
</g><g fill="none" stroke="#009a00" stroke-width="2.2">
<circle cx="849.0" cy="1616.7" r="4.1"/>
<circle cx="865.8" cy="1617.1" r="4.1"/>
<circle cx="817.9" cy="1633.0" r="4.1"/>
<circle cx="856.1" cy="1647.8" r="4.1"/>
<circle cx="839.8" cy="1661.2" r="4.1"/>
<circle cx="863.3" cy="1698.5" r="4.1"/>
<circle cx="882.9" cy="1583.5" r="4.1"/>
<circle cx="930.1" cy="1583.5" r="4.1"/>
<circle cx="961.5" cy="1583.5" r="4.1"/>
<circle cx="1040.4" cy="1534.0" r="4.1"/>
<circle cx="1023.6" cy="1617.1" r="4.1"/>
<circle cx="896.5" cy="1649.8" r="4.1"/>
<circle cx="894.0" cy="1670.8" r="4.1"/>
<circle cx="895.2" cy="1677.9" r="4.1"/>
<circle cx="973.6" cy="1665.8" r="4.1"/>
<circle cx="974.9" cy="1677.2" r="4.1"/>
<circle cx="946.4" cy="1677.9" r="4.1"/>
<circle cx="939.3" cy="1682.6" r="4.1"/>
<circle cx="919.9" cy="1691.0" r="4.1"/>
<circle cx="974.1" cy="1698.5" r="4.1"/>
<circle cx="1095.0" cy="1698.5" r="4.1"/>
<circle cx="841.0" cy="1732.0" r="4.1"/>
<circle cx="914.0" cy="1715.5" r="4.1"/>
<circle cx="910.0" cy="1723.6" r="4.1"/>
<circle cx="889.8" cy="1732.0" r="4.1"/>
<circle cx="889.8" cy="1749.1" r="4.1"/>
<circle cx="998.5" cy="1715.5" r="4.1"/>
<circle cx="928.8" cy="1773.1" r="4.1"/>
<circle cx="943.4" cy="1781.8" r="4.1"/>
<circle cx="952.3" cy="1781.8" r="4.1"/>
<circle cx="964.4" cy="1797.6" r="4.1"/>
</g><g fill="none" stroke="#f00" stroke-width="1.7">
<circle cx="790.6" cy="1631.8" r="4.1"/>
<circle cx="773.5" cy="1665.8" r="4.1"/>
<circle cx="776.5" cy="1692.3" r="4.1"/>
<circle cx="981.2" cy="1505.9" r="4.1"/>
<circle cx="896.9" cy="1580.6" r="4.1"/>
<circle cx="935.5" cy="1580.6" r="4.1"/>
<circle cx="874.2" cy="1601.6" r="4.1"/>
<circle cx="951.8" cy="1599.9" r="4.1"/>
<circle cx="973.6" cy="1599.9" r="4.1"/>
<circle cx="1062.8" cy="1591.9" r="4.1"/>
<circle cx="1044.6" cy="1607.0" r="4.1"/>
<circle cx="1038.4" cy="1613.4" r="4.1"/>
<circle cx="896.9" cy="1609.9" r="4.1"/>
<circle cx="893.5" cy="1612.5" r="4.1"/>
<circle cx="951.1" cy="1617.1" r="4.1"/>
<circle cx="992.2" cy="1617.1" r="4.1"/>
<circle cx="1091.1" cy="1617.1" r="4.1"/>
<circle cx="881.4" cy="1624.6" r="4.1"/>
<circle cx="929.6" cy="1640.6" r="4.1"/>
<circle cx="927.9" cy="1645.1" r="4.1"/>
<circle cx="958.2" cy="1641.1" r="4.1"/>
<circle cx="974.1" cy="1641.4" r="4.1"/>
<circle cx="985.9" cy="1645.1" r="4.1"/>
<circle cx="942.5" cy="1663.6" r="4.1"/>
<circle cx="1034.2" cy="1682.6" r="4.1"/>
<circle cx="1000.1" cy="1695.7" r="4.1"/>
<circle cx="1009.9" cy="1694.3" r="4.1"/>
<circle cx="1042.6" cy="1698.5" r="4.1"/>
<circle cx="946.4" cy="1698.5" r="4.1"/>
<circle cx="979.1" cy="1698.5" r="4.1"/>
<circle cx="1140.8" cy="1510.8" r="4.1"/>
<circle cx="1110.3" cy="1534.0" r="4.1"/>
<circle cx="1188.4" cy="1550.7" r="4.1"/>
<circle cx="1122.9" cy="1567.4" r="4.1"/>
<circle cx="1168.0" cy="1567.4" r="4.1"/>
<circle cx="1134.0" cy="1583.8" r="4.1"/>
<circle cx="1162.5" cy="1629.7" r="4.1"/>
<circle cx="1118.5" cy="1649.8" r="4.1"/>
<circle cx="1096.7" cy="1660.7" r="4.1"/>
<circle cx="1098.7" cy="1665.8" r="4.1"/>
<circle cx="1217.6" cy="1665.8" r="4.1"/>
<circle cx="1197.4" cy="1692.3" r="4.1"/>
<circle cx="1122.7" cy="1698.5" r="4.1"/>
<circle cx="1151.6" cy="1698.5" r="4.1"/>
<circle cx="939.2" cy="1702.1" r="4.1"/>
<circle cx="1050.2" cy="1715.5" r="4.1"/>
<circle cx="1072.3" cy="1715.5" r="4.1"/>
<circle cx="1076.7" cy="1732.0" r="4.1"/>
<circle cx="961.5" cy="1749.1" r="4.1"/>
<circle cx="1036.2" cy="1749.1" r="4.1"/>
<circle cx="1012.4" cy="1756.7" r="4.1"/>
<circle cx="998.5" cy="1765.1" r="4.1"/>
<circle cx="1087.9" cy="1761.7" r="4.1"/>
<circle cx="1095.8" cy="1765.1" r="4.1"/>
</g><g fill="#f00" stroke="none">
<circle cx="817.9" cy="1578.5" r="7.2"/>
<circle cx="805.4" cy="1623.8" r="7.2"/>
<circle cx="810.4" cy="1627.1" r="7.2"/>
<circle cx="849.0" cy="1625.5" r="7.2"/>
<circle cx="863.3" cy="1638.1" r="7.2"/>
<circle cx="865.8" cy="1647.3" r="7.2"/>
<circle cx="839.8" cy="1654.9" r="7.2"/>
<circle cx="856.2" cy="1659.6" r="7.2"/>
<circle cx="791.9" cy="1664.6" r="7.2"/>
<circle cx="807.0" cy="1670.0" r="7.2"/>
<circle cx="832.2" cy="1670.8" r="7.2"/>
<circle cx="841.1" cy="1696.8" r="7.2"/>
<circle cx="965.2" cy="1555.4" r="7.2"/>
<circle cx="962.4" cy="1558.3" r="7.2"/>
<circle cx="889.8" cy="1622.1" r="7.2"/>
<circle cx="888.5" cy="1638.1" r="7.2"/>
<circle cx="896.0" cy="1638.1" r="7.2"/>
<circle cx="910.0" cy="1646.1" r="7.2"/>
<circle cx="935.5" cy="1641.1" r="7.2"/>
<circle cx="1024.0" cy="1647.8" r="7.2"/>
<circle cx="1060.9" cy="1626.6" r="7.2"/>
<circle cx="974.9" cy="1669.1" r="7.2"/>
<circle cx="964.0" cy="1674.2" r="7.2"/>
<circle cx="883.4" cy="1683.4" r="7.2"/>
<circle cx="919.9" cy="1682.6" r="7.2"/>
<circle cx="882.6" cy="1692.6" r="7.2"/>
<circle cx="894.3" cy="1701.8" r="7.2"/>
<circle cx="914.0" cy="1699.2" r="7.2"/>
<circle cx="870.0" cy="1732.0" r="7.2"/>
</g><g fill="#fff" fill-opacity="0.85" stroke="none">
<circle cx="817.9" cy="1578.5" r="0.7"/>
<circle cx="805.4" cy="1623.8" r="0.7"/>
<circle cx="810.4" cy="1627.1" r="0.7"/>
<circle cx="849.0" cy="1625.5" r="0.7"/>
<circle cx="863.3" cy="1638.1" r="0.7"/>
<circle cx="865.8" cy="1647.3" r="0.7"/>
<circle cx="839.8" cy="1654.9" r="0.7"/>
<circle cx="856.2" cy="1659.6" r="0.7"/>
<circle cx="791.9" cy="1664.6" r="0.7"/>
<circle cx="807.0" cy="1670.0" r="0.7"/>
<circle cx="832.2" cy="1670.8" r="0.7"/>
<circle cx="841.1" cy="1696.8" r="0.7"/>
<circle cx="965.2" cy="1555.4" r="0.7"/>
<circle cx="962.4" cy="1558.3" r="0.7"/>
<circle cx="889.8" cy="1622.1" r="0.7"/>
<circle cx="888.5" cy="1638.1" r="0.7"/>
<circle cx="896.0" cy="1638.1" r="0.7"/>
<circle cx="910.0" cy="1646.1" r="0.7"/>
<circle cx="935.5" cy="1641.1" r="0.7"/>
<circle cx="1024.0" cy="1647.8" r="0.7"/>
<circle cx="1060.9" cy="1626.6" r="0.7"/>
<circle cx="974.9" cy="1669.1" r="0.7"/>
<circle cx="964.0" cy="1674.2" r="0.7"/>
<circle cx="883.4" cy="1683.4" r="0.7"/>
<circle cx="919.9" cy="1682.6" r="0.7"/>
<circle cx="882.6" cy="1692.6" r="0.7"/>
<circle cx="894.3" cy="1701.8" r="0.7"/>
<circle cx="914.0" cy="1699.2" r="0.7"/>
<circle cx="870.0" cy="1732.0" r="0.7"/>
</g><g fill="none" stroke="#009a00" stroke-width="2.3">
<circle cx="814.5" cy="1658.2" r="16.3"/>
<circle cx="950.6" cy="1685.0" r="16.3"/>
</g>
<g stroke="#00f" stroke-width="2.3" fill="#00f">
<path d="M256.8 1353.1V1550.7M215.8 1353.1H297.8M215.8 1550.7H297.8" fill="none"/>
<circle cx="256.8" cy="1451.7" r="13.4" stroke="none"/>
<path d="M322.9 1326.8V1590.5M281.9 1326.8H363.9M281.9 1590.5H363.9" fill="none"/>
<circle cx="322.9" cy="1458.7" r="13.4" stroke="none"/>
<path d="M389.8 1365.9V1630.0M348.8 1365.9H430.8M348.8 1630.0H430.8" fill="none"/>
<circle cx="389.8" cy="1497.9" r="13.4" stroke="none"/>
<path d="M456.9 1356.1V1587.2M415.9 1356.1H497.9M415.9 1587.2H497.9" fill="none"/>
<circle cx="456.9" cy="1471.8" r="13.4" stroke="none"/>
<path d="M529.6 1365.9V1629.7M488.6 1365.9H570.6M488.6 1629.7H570.6" fill="none"/>
<circle cx="529.6" cy="1497.9" r="13.4" stroke="none"/>
<path d="M601.4 1410.2V1641.4M560.4 1410.2H642.4M560.4 1641.4H642.4" fill="none"/>
<circle cx="601.4" cy="1526.4" r="13.4" stroke="none"/>
<path d="M668.6 1562.5V1693.8M627.6 1562.5H709.6M627.6 1693.8H709.6" fill="none"/>
<circle cx="668.6" cy="1628.0" r="13.4" stroke="none"/>
<path d="M734.8 1601.9V1733.3M693.8 1601.9H775.8M693.8 1733.3H775.8" fill="none"/>
<circle cx="734.8" cy="1667.9" r="13.4" stroke="none"/>
<path d="M814.5 1626.6V1692.4M773.5 1626.6H855.5M773.5 1692.4H855.5" fill="none"/>
<circle cx="814.5" cy="1659.0" r="13.4" stroke="none"/>
<path d="M950.5 1603.6V1702.1M909.5 1603.6H991.5M909.5 1702.1H991.5" fill="none"/>
<circle cx="950.5" cy="1653.2" r="13.4" stroke="none"/>
<path d="M1139.0 1549.6V1713.8M1098.0 1549.6H1180.0M1098.0 1713.8H1180.0" fill="none"/>
<circle cx="1139.0" cy="1631.7" r="13.4" stroke="none"/>
</g></g>
<text transform="translate(-1.0 697.0) scale(0.97 1)" text-anchor="start" font-size="41.5" font-weight="bold">b</text>
<text transform="translate(-1.0 1208.6) scale(0.97 1)" text-anchor="start" font-size="41.5" font-weight="bold">c</text>
<text transform="translate(166.0 745.0) scale(0.97 1)" text-anchor="end" font-size="34.4" >30</text>
<text transform="translate(166.0 819.3) scale(0.97 1)" text-anchor="end" font-size="34.4" >0</text>
<text transform="translate(166.0 893.6) scale(0.97 1)" text-anchor="end" font-size="34.4" >−30</text>
<text transform="translate(166.0 967.9) scale(0.97 1)" text-anchor="end" font-size="34.4" >−60</text>
<text transform="translate(166.0 1042.1) scale(0.97 1)" text-anchor="end" font-size="34.4" >−90</text>
<text transform="translate(166.0 1116.4) scale(0.97 1)" text-anchor="end" font-size="34.4" >−120</text>
<text transform="translate(24.8 904.2) rotate(-90) scale(0.997 1)" text-anchor="middle" font-size="34.4" >Azimuth relative to</text>
<text transform="translate(66.3 909.5) rotate(-90) scale(0.97 1)" text-anchor="middle" font-size="34.4" >the slab strike (deg)</text>
<text transform="translate(1261.0 788.0) scale(0.97 1)" text-anchor="start" font-size="34.4" >Slab</text>
<text transform="translate(1261.0 828.0) scale(0.97 1)" text-anchor="start" font-size="34.4" >strike</text>
<text transform="translate(1261.0 1011.0) scale(0.97 1)" text-anchor="start" font-size="34.4" >Slab</text>
<text transform="translate(1261.0 1051.0) scale(0.97 1)" text-anchor="start" font-size="34.4" >dip</text>
<text transform="translate(563.0 1178.5) scale(0.97 1)" text-anchor="middle" font-size="34.4" >Volcanic Front</text>
<text transform="translate(783.8 1178.5) scale(0.97 1)" text-anchor="middle" font-size="34.4" >Coast</text>
<text transform="translate(1046.5 1178.5) scale(0.97 1)" text-anchor="middle" font-size="34.4" >Moho</text>
<text transform="translate(167.3 1824.2) scale(0.97 1)" text-anchor="end" font-size="34.4" >0.0</text>
<text transform="translate(167.3 1659.6) scale(0.97 1)" text-anchor="end" font-size="34.4" >0.1</text>
<text transform="translate(167.3 1495.0) scale(0.97 1)" text-anchor="end" font-size="34.4" >0.2</text>
<text transform="translate(167.3 1330.4) scale(0.97 1)" text-anchor="end" font-size="34.4" >0.3</text>
<text transform="translate(92.0 1514.0) rotate(-90) scale(0.97 1)" text-anchor="middle" font-size="34.4" >Delay time (s)</text>
<text transform="translate(323.0 1864.0) scale(0.97 1)" text-anchor="middle" font-size="34.4" >190</text>
<text transform="translate(456.7 1864.0) scale(0.97 1)" text-anchor="middle" font-size="34.4" >150</text>
<text transform="translate(602.0 1864.0) scale(0.97 1)" text-anchor="middle" font-size="34.4" >110</text>
<text transform="translate(735.2 1864.0) scale(0.97 1)" text-anchor="middle" font-size="34.4" >70</text>
<text transform="translate(813.6 1864.0) scale(0.97 1)" text-anchor="middle" font-size="34.4" >50</text>
<text transform="translate(951.0 1864.0) scale(0.97 1)" text-anchor="middle" font-size="34.4" >30</text>
<text transform="translate(1194.0 1864.0) scale(0.97 1)" text-anchor="middle" font-size="34.4" >10</text>
<text transform="translate(713.0 1909.0) scale(0.97 1)" text-anchor="middle" font-size="34.4" >Depth to the subduction interface (km)</text>
</svg>
</body></html>
